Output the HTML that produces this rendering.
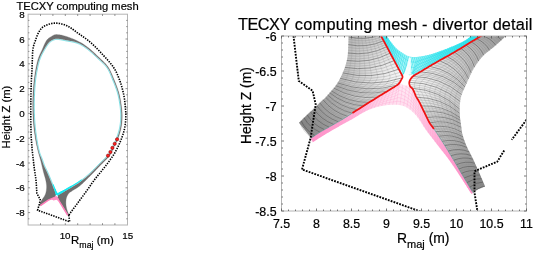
<!DOCTYPE html>
<html><head><meta charset="utf-8"><style>
html,body{margin:0;padding:0;background:#fff;}
svg{display:block;font-family:"Liberation Sans",sans-serif;will-change:transform;}
text{stroke:#000;stroke-width:0.2px;}
</style></head><body>
<svg width="533" height="254" viewBox="0 0 533 254">
<rect width="533" height="254" fill="#fff"/>
<clipPath id="lc"><rect x="28.1" y="14.2" width="99.4" height="210.8"/></clipPath>
<g clip-path="url(#lc)">
<path d="M39.50,204.70 L39.65,204.37 L39.79,204.06 L39.93,203.75 L40.06,203.45 L40.19,203.14 L40.33,202.84 L40.47,202.52 L40.62,202.20 L40.78,201.85 L40.97,201.49 L41.17,201.11 L41.40,200.70 L41.66,200.26 L41.96,199.80 L42.30,199.32 L42.65,198.83 L43.01,198.31 L43.39,197.79 L43.76,197.25 L44.12,196.71 L44.46,196.16 L44.78,195.61 L45.06,195.05 L45.30,194.50 L45.51,193.94 L45.69,193.38 L45.86,192.81 L46.00,192.23 L46.13,191.64 L46.24,191.05 L46.34,190.46 L46.42,189.86 L46.48,189.27 L46.53,188.68 L46.57,188.09 L46.60,187.50 L46.61,186.92 L46.60,186.34 L46.58,185.77 L46.54,185.20 L46.49,184.63 L46.42,184.06 L46.34,183.49 L46.25,182.91 L46.15,182.32 L46.04,181.72 L45.92,181.12 L45.80,180.50 L45.67,179.88 L45.52,179.27 L45.36,178.65 L45.19,178.04 L45.01,177.41 L44.82,176.78 L44.63,176.13 L44.43,175.46 L44.22,174.77 L44.02,174.05 L43.81,173.29 L43.60,172.50 L43.39,171.66 L43.17,170.78 L42.95,169.86 L42.72,168.91 L42.49,167.93 L42.25,166.94 L42.01,165.93 L41.77,164.93 L41.53,163.92 L41.29,162.93 L41.04,161.95 L40.80,161.00 L40.56,160.07 L40.31,159.15 L40.05,158.24 L39.80,157.33 L39.54,156.43 L39.28,155.53 L39.02,154.63 L38.77,153.72 L38.52,152.81 L38.27,151.89 L38.03,150.95 L37.80,150.00 L37.57,149.05 L37.35,148.10 L37.13,147.16 L36.91,146.22 L36.70,145.27 L36.49,144.31 L36.28,143.33 L36.08,142.33 L35.88,141.30 L35.68,140.24 L35.49,139.14 L35.30,138.00 L35.11,136.81 L34.92,135.58 L34.73,134.30 L34.54,133.00 L34.36,131.67 L34.18,130.31 L34.01,128.94 L33.84,127.56 L33.69,126.16 L33.55,124.77 L33.42,123.38 L33.30,122.00 L33.20,120.61 L33.11,119.20 L33.03,117.77 L32.96,116.33 L32.90,114.89 L32.84,113.44 L32.80,111.99 L32.77,110.56 L32.74,109.13 L32.72,107.73 L32.71,106.35 L32.70,105.00 L32.70,103.67 L32.71,102.35 L32.73,101.04 L32.76,99.74 L32.79,98.46 L32.84,97.19 L32.89,95.94 L32.94,94.70 L33.00,93.49 L33.06,92.30 L33.13,91.14 L33.20,90.00 L33.27,88.89 L33.35,87.81 L33.44,86.77 L33.53,85.74 L33.62,84.74 L33.72,83.75 L33.82,82.78 L33.93,81.81 L34.04,80.86 L34.16,79.91 L34.28,78.96 L34.40,78.00 L34.53,77.04 L34.66,76.09 L34.80,75.13 L34.94,74.19 L35.08,73.24 L35.23,72.31 L35.38,71.39 L35.54,70.48 L35.70,69.59 L35.86,68.71 L36.03,67.84 L36.20,67.00 L36.37,66.18 L36.54,65.37 L36.72,64.57 L36.89,63.80 L37.07,63.03 L37.26,62.28 L37.45,61.54 L37.64,60.81 L37.84,60.10 L38.05,59.39 L38.27,58.69 L38.50,58.00 L38.74,57.33 L38.98,56.69 L39.22,56.08 L39.47,55.48 L39.73,54.89 L40.00,54.31 L40.28,53.72 L40.56,53.12 L40.85,52.51 L41.16,51.87 L41.47,51.20 L41.80,50.50 L42.14,49.74 L42.50,48.92 L42.87,48.06 L43.25,47.17 L43.64,46.26 L44.04,45.34 L44.45,44.44 L44.86,43.57 L45.27,42.73 L45.68,41.95 L46.09,41.23 L46.50,40.60 L46.91,40.04 L47.32,39.54 L47.73,39.09 L48.14,38.69 L48.56,38.32 L48.98,37.99 L49.40,37.69 L49.82,37.41 L50.24,37.15 L50.66,36.90 L51.08,36.65 L51.50,36.40 L51.90,36.16 L52.29,35.92 L52.66,35.70 L53.02,35.50 L53.39,35.31 L53.76,35.14 L54.14,34.99 L54.54,34.86 L54.98,34.75 L55.44,34.68 L55.95,34.62 L56.50,34.60 L57.09,34.60 L57.71,34.63 L58.36,34.68 L59.04,34.76 L59.74,34.85 L60.48,34.98 L61.23,35.12 L62.01,35.29 L62.82,35.48 L63.66,35.70 L64.52,35.94 L65.40,36.20 L66.33,36.49 L67.32,36.82 L68.35,37.18 L69.42,37.57 L70.52,37.98 L71.63,38.41 L72.75,38.85 L73.86,39.31 L74.95,39.78 L76.01,40.25 L77.03,40.73 L78.00,41.20 L78.92,41.67 L79.82,42.14 L80.68,42.62 L81.53,43.10 L82.35,43.60 L83.16,44.10 L83.96,44.62 L84.76,45.15 L85.56,45.70 L86.36,46.28 L87.17,46.88 L88.00,47.50 L88.83,48.15 L89.67,48.83 L90.50,49.53 L91.34,50.26 L92.18,51.00 L93.01,51.76 L93.85,52.54 L94.68,53.32 L95.51,54.11 L96.34,54.91 L97.17,55.70 L98.00,56.50 L98.84,57.30 L99.69,58.09 L100.55,58.89 L101.42,59.69 L102.28,60.50 L103.14,61.32 L103.99,62.16 L104.81,63.01 L105.61,63.87 L106.38,64.76 L107.11,65.67 L107.80,66.60 L108.44,67.56 L109.04,68.54 L109.61,69.54 L110.14,70.56 L110.65,71.60 L111.14,72.65 L111.62,73.72 L112.08,74.80 L112.53,75.89 L112.98,76.98 L113.44,78.09 L113.90,79.20 L114.37,80.32 L114.84,81.46 L115.30,82.62 L115.77,83.79 L116.22,84.97 L116.67,86.16 L117.10,87.36 L117.52,88.55 L117.92,89.75 L118.31,90.94 L118.67,92.12 L119.00,93.30 L119.31,94.48 L119.60,95.68 L119.87,96.88 L120.13,98.10 L120.36,99.31 L120.58,100.51 L120.79,101.71 L120.97,102.88 L121.15,104.03 L121.31,105.16 L121.46,106.25 L121.60,107.30 L121.73,108.31 L121.84,109.28 L121.93,110.23 L122.01,111.14 L122.08,112.03 L122.13,112.91 L122.17,113.77 L122.20,114.61 L122.22,115.46 L122.22,116.30 L122.22,117.15 L122.20,118.00 L122.17,118.85 L122.14,119.70 L122.09,120.53 L122.03,121.36 L121.95,122.18 L121.87,122.99 L121.77,123.81 L121.66,124.62 L121.54,125.44 L121.41,126.25 L121.26,127.07 L121.10,127.90 L120.93,128.73 L120.74,129.57 L120.53,130.42 L120.31,131.27 L120.09,132.12 L119.84,132.96 L119.59,133.81 L119.33,134.64 L119.06,135.47 L118.78,136.30 L118.49,137.10 L118.20,137.90 L117.90,138.68 L117.58,139.45 L117.25,140.20 L116.90,140.95 L116.55,141.69 L116.19,142.43 L115.83,143.15 L115.46,143.88 L115.09,144.61 L114.73,145.34 L114.36,146.07 L114.00,146.80 L113.66,147.53 L113.34,148.26 L113.04,148.97 L112.74,149.69 L112.45,150.40 L112.14,151.12 L111.82,151.84 L111.47,152.57 L111.08,153.30 L110.64,154.05 L110.15,154.82 L109.60,155.60 L108.98,156.40 L108.30,157.21 L107.56,158.04 L106.78,158.88 L105.96,159.73 L105.11,160.59 L104.25,161.45 L103.37,162.32 L102.48,163.19 L101.61,164.06 L100.74,164.93 L99.90,165.80 L99.07,166.67 L98.23,167.56 L97.38,168.45 L96.53,169.34 L95.68,170.24 L94.82,171.14 L93.96,172.04 L93.10,172.93 L92.25,173.82 L91.39,174.69 L90.54,175.55 L89.70,176.40 L88.85,177.25 L87.99,178.10 L87.12,178.96 L86.25,179.83 L85.38,180.68 L84.51,181.52 L83.66,182.34 L82.82,183.13 L82.00,183.89 L81.20,184.61 L80.43,185.28 L79.70,185.90 L78.99,186.47 L78.30,186.98 L77.63,187.45 L76.97,187.89 L76.33,188.28 L75.72,188.66 L75.12,189.01 L74.55,189.34 L74.00,189.66 L73.48,189.97 L72.98,190.28 L72.50,190.60 L72.05,190.91 L71.64,191.18 L71.25,191.44 L70.89,191.67 L70.55,191.90 L70.24,192.12 L69.94,192.34 L69.65,192.56 L69.38,192.79 L69.11,193.04 L68.85,193.31 L68.60,193.60 L68.35,193.92 L68.12,194.25 L67.89,194.59 L67.68,194.94 L67.48,195.30 L67.29,195.67 L67.11,196.05 L66.94,196.44 L66.79,196.82 L66.65,197.22 L66.52,197.61 L66.40,198.00 L66.29,198.39 L66.20,198.79 L66.13,199.20 L66.06,199.60 L66.01,200.02 L65.97,200.43 L65.94,200.85 L65.91,201.27 L65.90,201.70 L65.89,202.13 L65.89,202.56 L65.90,203.00 L65.91,203.44 L65.93,203.88 L65.96,204.33 L66.00,204.78 L66.04,205.23 L66.09,205.69 L66.16,206.15 L66.23,206.61 L66.31,207.08 L66.39,207.55 L66.49,208.02 L66.60,208.50 L66.72,208.98 L66.86,209.47 L67.01,209.96 L67.17,210.46 L67.34,210.96 L67.52,211.47 L67.70,211.97 L67.89,212.48 L68.07,212.99 L68.25,213.49 L68.43,214.00 L68.60,214.50 L68.30,215.00 L61.50,204.50 L56.50,196.60 L56.50,196.00 L56.91,195.77 L57.30,195.56 L57.67,195.35 L58.04,195.14 L58.42,194.93 L58.79,194.72 L59.18,194.51 L59.59,194.28 L60.02,194.04 L60.48,193.78 L60.97,193.50 L61.50,193.20 L62.07,192.87 L62.67,192.53 L63.31,192.17 L63.96,191.80 L64.64,191.41 L65.34,191.01 L66.06,190.59 L66.79,190.17 L67.54,189.74 L68.29,189.30 L69.04,188.85 L69.80,188.40 L70.57,187.94 L71.36,187.48 L72.16,187.01 L72.99,186.53 L73.82,186.04 L74.66,185.54 L75.50,185.04 L76.35,184.51 L77.19,183.98 L78.04,183.44 L78.87,182.88 L79.70,182.30 L80.52,181.71 L81.34,181.11 L82.15,180.50 L82.97,179.87 L83.79,179.23 L84.60,178.58 L85.41,177.92 L86.23,177.24 L87.05,176.55 L87.86,175.85 L88.68,175.13 L89.50,174.40 L90.32,173.65 L91.15,172.88 L91.98,172.08 L92.80,171.27 L93.63,170.45 L94.46,169.62 L95.29,168.78 L96.12,167.94 L96.94,167.09 L97.77,166.26 L98.59,165.42 L99.40,164.60 L100.23,163.78 L101.08,162.95 L101.94,162.11 L102.81,161.28 L103.68,160.44 L104.54,159.61 L105.38,158.78 L106.19,157.96 L106.97,157.14 L107.70,156.35 L108.38,155.56 L109.00,154.80 L109.56,154.06 L110.05,153.34 L110.50,152.63 L110.90,151.94 L111.27,151.26 L111.61,150.59 L111.93,149.92 L112.23,149.25 L112.54,148.57 L112.84,147.89 L113.16,147.20 L113.50,146.50 L113.85,145.79 L114.20,145.07 L114.54,144.36 L114.88,143.64 L115.22,142.92 L115.55,142.20 L115.88,141.47 L116.20,140.73 L116.51,139.99 L116.81,139.24 L117.11,138.47 L117.40,137.70 L117.68,136.91 L117.96,136.11 L118.24,135.30 L118.51,134.48 L118.77,133.65 L119.02,132.81 L119.27,131.97 L119.50,131.13 L119.72,130.29 L119.93,129.46 L120.12,128.62 L120.30,127.80 L120.46,126.98 L120.61,126.17 L120.74,125.36 L120.86,124.56 L120.97,123.75 L121.06,122.94 L121.15,122.13 L121.22,121.32 L121.28,120.50 L121.33,119.68 L121.37,118.84 L121.40,118.00 L121.42,117.15 L121.43,116.32 L121.43,115.48 L121.43,114.64 L121.41,113.80 L121.38,112.95 L121.33,112.08 L121.27,111.20 L121.20,110.29 L121.12,109.36 L121.02,108.40 L120.90,107.40 L120.77,106.36 L120.63,105.29 L120.47,104.17 L120.31,103.04 L120.13,101.88 L119.93,100.70 L119.72,99.51 L119.49,98.32 L119.25,97.12 L118.98,95.94 L118.70,94.76 L118.40,93.60 L118.07,92.45 L117.72,91.28 L117.35,90.12 L116.95,88.95 L116.54,87.78 L116.11,86.61 L115.67,85.45 L115.23,84.30 L114.77,83.15 L114.31,82.02 L113.86,80.90 L113.40,79.80 L112.95,78.71 L112.51,77.62 L112.08,76.54 L111.64,75.47 L111.20,74.41 L110.75,73.36 L110.28,72.32 L109.79,71.30 L109.27,70.29 L108.72,69.31 L108.13,68.34 L107.50,67.40 L106.82,66.48 L106.09,65.59 L105.33,64.72 L104.53,63.87 L103.70,63.04 L102.85,62.23 L101.99,61.42 L101.12,60.63 L100.25,59.84 L99.38,59.06 L98.53,58.28 L97.70,57.50 L96.88,56.72 L96.05,55.94 L95.23,55.15 L94.40,54.38 L93.58,53.61 L92.75,52.85 L91.92,52.11 L91.10,51.38 L90.27,50.67 L89.45,49.99 L88.62,49.33 L87.80,48.70 L86.99,48.10 L86.19,47.51 L85.41,46.95 L84.63,46.40 L83.85,45.88 L83.07,45.37 L82.28,44.89 L81.47,44.43 L80.64,43.99 L79.79,43.57 L78.91,43.17 L78.00,42.80 L77.03,42.45 L76.01,42.14 L74.94,41.85 L73.83,41.58 L72.71,41.34 L71.58,41.11 L70.46,40.90 L69.36,40.71 L68.29,40.52 L67.26,40.34 L66.29,40.17 L65.40,40.00 L64.57,39.83 L63.77,39.67 L63.01,39.52 L62.29,39.37 L61.60,39.24 L60.94,39.12 L60.31,39.01 L59.71,38.91 L59.13,38.84 L58.57,38.77 L58.02,38.73 L57.50,38.70 L57.01,38.69 L56.55,38.70 L56.13,38.72 L55.74,38.76 L55.37,38.81 L55.03,38.88 L54.69,38.96 L54.36,39.06 L54.03,39.18 L53.70,39.30 L53.36,39.44 L53.00,39.60 L52.64,39.76 L52.28,39.93 L51.93,40.10 L51.58,40.28 L51.23,40.48 L50.88,40.69 L50.53,40.93 L50.18,41.20 L49.82,41.49 L49.45,41.82 L49.08,42.19 L48.70,42.60 L48.31,43.06 L47.90,43.57 L47.48,44.11 L47.06,44.70 L46.63,45.32 L46.19,45.96 L45.76,46.62 L45.33,47.29 L44.91,47.97 L44.50,48.65 L44.09,49.33 L43.70,50.00 L43.32,50.67 L42.94,51.34 L42.56,52.02 L42.18,52.71 L41.81,53.41 L41.45,54.12 L41.10,54.83 L40.75,55.55 L40.42,56.28 L40.10,57.01 L39.79,57.75 L39.50,58.50 L39.23,59.25 L38.97,60.00 L38.72,60.75 L38.49,61.50 L38.27,62.26 L38.06,63.03 L37.86,63.81 L37.66,64.61 L37.47,65.43 L37.28,66.26 L37.09,67.12 L36.90,68.00 L36.71,68.90 L36.52,69.82 L36.34,70.75 L36.16,71.70 L35.98,72.67 L35.81,73.66 L35.64,74.66 L35.48,75.69 L35.32,76.73 L35.17,77.80 L35.03,78.89 L34.90,80.00 L34.77,81.14 L34.65,82.33 L34.54,83.54 L34.43,84.78 L34.33,86.04 L34.24,87.31 L34.15,88.60 L34.07,89.89 L33.99,91.18 L33.92,92.47 L33.86,93.74 L33.80,95.00 L33.75,96.25 L33.70,97.50 L33.66,98.75 L33.63,100.00 L33.60,101.25 L33.58,102.50 L33.57,103.75 L33.56,105.00 L33.56,106.25 L33.57,107.50 L33.58,108.75 L33.60,110.00 L33.63,111.25 L33.66,112.50 L33.70,113.75 L33.75,115.00 L33.81,116.25 L33.87,117.50 L33.94,118.75 L34.01,120.00 L34.10,121.25 L34.19,122.50 L34.29,123.75 L34.40,125.00 L34.52,126.26 L34.65,127.53 L34.78,128.82 L34.93,130.11 L35.08,131.40 L35.24,132.69 L35.41,133.96 L35.58,135.22 L35.76,136.46 L35.94,137.67 L36.12,138.86 L36.30,140.00 L36.49,141.12 L36.68,142.23 L36.88,143.33 L37.08,144.41 L37.29,145.47 L37.50,146.50 L37.71,147.51 L37.93,148.48 L38.15,149.42 L38.36,150.32 L38.58,151.18 L38.80,152.00 L39.02,152.76 L39.24,153.46 L39.47,154.10 L39.69,154.70 L39.92,155.27 L40.15,155.81 L40.38,156.34 L40.61,156.85 L40.83,157.37 L41.06,157.89 L41.28,158.43 L41.50,159.00 L41.71,159.58 L41.91,160.16 L42.11,160.73 L42.30,161.30 L42.50,161.88 L42.69,162.45 L42.88,163.03 L43.09,163.61 L43.30,164.19 L43.52,164.79 L43.75,165.39 L44.00,166.00 L44.26,166.61 L44.53,167.21 L44.81,167.80 L45.10,168.39 L45.40,168.98 L45.70,169.59 L46.01,170.21 L46.33,170.86 L46.66,171.54 L47.00,172.25 L47.35,173.00 L47.70,173.80 L48.07,174.66 L48.46,175.58 L48.86,176.55 L49.28,177.56 L49.71,178.59 L50.14,179.65 L50.57,180.71 L51.00,181.78 L51.42,182.83 L51.83,183.86 L52.22,184.85 L52.60,185.80 L52.96,186.71 L53.31,187.60 L53.65,188.48 L53.97,189.33 L54.30,190.18 L54.61,191.01 L54.93,191.84 L55.24,192.67 L55.55,193.49 L55.86,194.32 L56.18,195.16 L56.50,196.00 L56.50,196.60 L48.30,200.00 L40.60,205.60 L39.50,204.90 Z" fill="#6e6e6e" stroke="#6e6e6e" stroke-width="0.3"/>
<path d="M57.15,195.75 L56.83,194.91 L56.52,194.07 L56.20,193.24 L55.89,192.42 L55.58,191.59 L55.27,190.76 L54.95,189.93 L54.63,189.08 L54.30,188.22 L53.96,187.35 L53.61,186.46 L53.25,185.54 L52.87,184.59 L52.48,183.60 L52.07,182.57 L51.65,181.52 L51.22,180.45 L50.79,179.39 L50.36,178.33 L49.93,177.29 L49.51,176.28 L49.10,175.31 L48.71,174.38 L48.34,173.52 L47.98,172.71 L47.63,171.95 L47.29,171.23 L46.96,170.55 L46.64,169.90 L46.33,169.27 L46.02,168.67 L45.73,168.08 L45.44,167.49 L45.17,166.91 L44.90,166.33 L44.65,165.73 L44.40,165.13 L44.17,164.54 L43.95,163.95 L43.75,163.37 L43.55,162.80 L43.35,162.23 L43.16,161.65 L42.97,161.08 L42.77,160.51 L42.58,159.93 L42.37,159.34 L42.16,158.75 L41.93,158.17 L41.70,157.62 L41.48,157.09 L41.25,156.57 L41.02,156.05 L40.79,155.54 L40.57,155.00 L40.34,154.45 L40.12,153.86 L39.90,153.23 L39.69,152.56 L39.47,151.81 L39.26,151.01 L39.04,150.16 L38.83,149.26 L38.61,148.33 L38.40,147.36 L38.19,146.36 L37.98,145.33 L37.77,144.28 L37.57,143.20 L37.37,142.11 L37.18,141.00 L36.99,139.89 L36.81,138.75 L36.63,137.57 L36.45,136.36 L36.27,135.13 L36.10,133.87 L35.94,132.60 L35.78,131.32 L35.62,130.03 L35.48,128.74 L35.34,127.46 L35.21,126.19 L35.10,124.94 L34.99,123.69 L34.89,122.45 L34.80,121.20 L34.71,119.95 L34.64,118.71 L34.57,117.46 L34.51,116.22 L34.45,114.97 L34.40,113.73 L34.36,112.48 L34.33,111.23 L34.30,109.99 L34.28,108.74 L34.27,107.49 L34.26,106.25 L34.26,105.00 L34.27,103.76 L34.28,102.51 L34.30,101.26 L34.33,100.02 L34.36,98.77 L34.40,97.52 L34.45,96.28 L34.50,95.03 L34.56,93.77 L34.62,92.50 L34.69,91.22 L34.77,89.93 L34.85,88.64 L34.94,87.36 L35.03,86.09 L35.13,84.84 L35.24,83.60 L35.35,82.39 L35.47,81.22 L35.60,80.08 L35.73,78.97 L35.87,77.89 L36.02,76.83 L36.17,75.79 L36.33,74.77 L36.50,73.77 L36.67,72.79 L36.84,71.83 L37.02,70.89 L37.21,69.96 L37.39,69.05 L37.58,68.15 L37.77,67.27 L37.96,66.41 L38.15,65.58 L38.34,64.78 L38.54,63.99 L38.74,63.21 L38.95,62.45 L39.16,61.70 L39.39,60.96 L39.63,60.22 L39.88,59.48 L40.15,58.75 L40.44,58.01 L40.74,57.29 L41.06,56.56 L41.39,55.85 L41.73,55.14 L42.07,54.43 L42.43,53.74 L42.80,53.05 L43.17,52.36 L43.55,51.68 L43.93,51.01 L44.31,50.35 L44.69,49.69 L45.09,49.01 L45.51,48.34 L45.93,47.66 L46.35,47.00 L46.78,46.34 L47.20,45.71 L47.63,45.11 L48.04,44.53 L48.45,44.00 L48.84,43.51 L49.22,43.07 L49.58,42.68 L49.94,42.33 L50.28,42.02 L50.61,41.75 L50.94,41.50 L51.26,41.28 L51.59,41.08 L51.91,40.90 L52.24,40.72 L52.58,40.56 L52.93,40.40 L53.28,40.24 L53.63,40.09 L53.96,39.95 L54.27,39.83 L54.57,39.73 L54.87,39.64 L55.18,39.56 L55.49,39.50 L55.82,39.45 L56.18,39.42 L56.57,39.40 L57.00,39.39 L57.48,39.40 L57.98,39.42 L58.50,39.47 L59.04,39.53 L59.61,39.61 L60.20,39.70 L60.82,39.81 L61.47,39.93 L62.16,40.06 L62.88,40.20 L63.63,40.36 L64.43,40.52 L65.27,40.69 L66.17,40.86 L67.14,41.03 L68.17,41.21 L69.23,41.40 L70.33,41.59 L71.45,41.80 L72.57,42.02 L73.68,42.26 L74.76,42.53 L75.81,42.81 L76.81,43.12 L77.75,43.45 L78.64,43.82 L79.50,44.20 L80.33,44.61 L81.13,45.04 L81.92,45.49 L82.70,45.97 L83.47,46.46 L84.23,46.98 L85.00,47.52 L85.78,48.08 L86.57,48.66 L87.38,49.26 L88.19,49.88 L89.00,50.53 L89.82,51.21 L90.64,51.91 L91.46,52.63 L92.28,53.37 L93.10,54.12 L93.93,54.89 L94.75,55.66 L95.57,56.44 L96.40,57.23 L97.22,58.01 L98.06,58.79 L98.91,59.58 L99.78,60.36 L100.65,61.14 L101.51,61.93 L102.37,62.73 L103.21,63.54 L104.02,64.36 L104.81,65.20 L105.56,66.05 L106.27,66.91 L106.93,67.80 L107.54,68.72 L108.12,69.66 L108.65,70.62 L109.16,71.61 L109.65,72.61 L110.11,73.64 L110.56,74.68 L111.00,75.74 L111.43,76.81 L111.86,77.88 L112.30,78.97 L112.75,80.07 L113.21,81.17 L113.67,82.28 L114.12,83.41 L114.57,84.55 L115.02,85.70 L115.46,86.86 L115.88,88.02 L116.29,89.18 L116.68,90.34 L117.05,91.49 L117.40,92.64 L117.72,93.78 L118.02,94.93 L118.30,96.09 L118.56,97.27 L118.81,98.45 L119.03,99.64 L119.24,100.82 L119.44,101.99 L119.62,103.14 L119.78,104.27 L119.93,105.38 L120.08,106.45 L120.21,107.48 L120.32,108.48 L120.42,109.43 L120.51,110.35 L120.58,111.25 L120.63,112.12 L120.68,112.98 L120.71,113.82 L120.73,114.66 L120.73,115.48 L120.73,116.31 L120.72,117.14 L120.70,117.98 L120.67,118.82 L120.63,119.64 L120.58,120.46 L120.52,121.27 L120.45,122.07 L120.37,122.87 L120.27,123.66 L120.17,124.46 L120.05,125.25 L119.92,126.05 L119.77,126.85 L119.61,127.66 L119.44,128.47 L119.25,129.29 L119.05,130.12 L118.83,130.95 L118.60,131.78 L118.35,132.61 L118.10,133.44 L117.84,134.26 L117.57,135.08 L117.30,135.88 L117.02,136.68 L116.74,137.46 L116.46,138.22 L116.16,138.98 L115.86,139.72 L115.55,140.46 L115.24,141.19 L114.91,141.91 L114.58,142.63 L114.25,143.35 L113.91,144.06 L113.57,144.77 L113.22,145.48 L112.87,146.19 L112.53,146.91 L112.21,147.60 L111.90,148.29 L111.60,148.96 L111.29,149.62 L110.98,150.28 L110.65,150.94 L110.29,151.60 L109.90,152.27 L109.47,152.95 L108.99,153.65 L108.45,154.37 L107.84,155.11 L107.18,155.88 L106.46,156.67 L105.69,157.47 L104.88,158.28 L104.05,159.11 L103.19,159.94 L102.33,160.77 L101.45,161.61 L100.59,162.45 L99.74,163.28 L98.90,164.11 L98.09,164.93 L97.27,165.76 L96.44,166.60 L95.62,167.45 L94.79,168.29 L93.97,169.13 L93.14,169.96 L92.31,170.78 L91.49,171.58 L90.67,172.37 L89.85,173.14 L89.03,173.88 L88.22,174.61 L87.40,175.32 L86.59,176.02 L85.78,176.70 L84.97,177.38 L84.16,178.04 L83.35,178.68 L82.54,179.32 L81.73,179.94 L80.92,180.55 L80.11,181.14 L79.30,181.73 L78.48,182.30 L77.65,182.85 L76.82,183.39 L75.98,183.92 L75.14,184.44 L74.30,184.94 L73.46,185.44 L72.63,185.93 L71.81,186.40 L71.00,186.88 L70.21,187.34 L69.44,187.80 L68.68,188.25 L67.93,188.70 L67.18,189.13 L66.44,189.56 L65.71,189.99 L65.00,190.40 L64.30,190.80 L63.62,191.19 L62.96,191.56 L62.33,191.92 L61.72,192.27 L61.15,192.59 L60.62,192.89 L60.13,193.17 L59.67,193.43 L59.25,193.67 L58.84,193.90 L58.45,194.11 L58.08,194.32 L57.71,194.53 L57.33,194.73 L56.95,194.94 L56.57,195.16 L56.16,195.39" fill="none" stroke="#38d0d8" stroke-width="0.65"/>
<path d="M57.34,195.68 L57.02,194.84 L56.70,194.00 L56.39,193.17 L56.08,192.35 L55.77,191.52 L55.45,190.69 L55.14,189.86 L54.81,189.01 L54.49,188.15 L54.15,187.28 L53.80,186.38 L53.44,185.47 L53.06,184.52 M81.61,179.78 L80.80,180.39 L79.99,180.98 L79.18,181.57 L78.37,182.13 L77.54,182.68 L76.71,183.22 L75.87,183.75 L75.03,184.27 L74.19,184.77 L73.36,185.27 L72.53,185.75 L71.71,186.23 L70.90,186.70 L70.11,187.17 L69.34,187.63 L68.58,188.08 L67.83,188.52 L67.08,188.96 L66.34,189.39 L65.61,189.81 L64.90,190.23 L64.20,190.63 L63.52,191.01 L62.86,191.39 L62.23,191.75 L61.63,192.09 L61.05,192.42 L60.52,192.72 L60.03,193.00 L59.58,193.26 L59.15,193.50 L58.74,193.72 L58.36,193.94 L57.98,194.15 L57.61,194.35 L57.24,194.56 L56.86,194.77 L56.47,194.99 L56.06,195.21" fill="none" stroke="#14eaf2" stroke-width="1.1"/>
<path d="M57.34,195.68 L57.02,194.84 L56.70,194.00 L56.39,193.17 L56.08,192.35 L55.77,191.52 L55.45,190.69 L55.14,189.86 L54.81,189.01 M71.71,186.23 L70.90,186.70 L70.11,187.17 L69.34,187.63 L68.58,188.08 L67.83,188.52 L67.08,188.96 L66.34,189.39 L65.61,189.81 L64.90,190.23 L64.20,190.63 L63.52,191.01 L62.86,191.39 L62.23,191.75 L61.63,192.09 L61.05,192.42 L60.52,192.72 L60.03,193.00 L59.58,193.26 L59.15,193.50 L58.74,193.72 L58.36,193.94 L57.98,194.15 L57.61,194.35 L57.24,194.56 L56.86,194.77 L56.47,194.99 L56.06,195.21" fill="none" stroke="#14eaf2" stroke-width="1.5"/>
<path d="M57.34,195.68 L57.02,194.84 L56.70,194.00 L56.39,193.17 L56.08,192.35 M62.86,191.39 L62.23,191.75 L61.63,192.09 L61.05,192.42 L60.52,192.72 L60.03,193.00 L59.58,193.26 L59.15,193.50 L58.74,193.72 L58.36,193.94 L57.98,194.15 L57.61,194.35 L57.24,194.56 L56.86,194.77 L56.47,194.99 L56.06,195.21" fill="none" stroke="#14eaf2" stroke-width="2.0"/>
<circle cx="56.6" cy="196.2" r="1.2" fill="#e8ffff"/>
<path d="M56.5,196.8 L48.3,200.1 L40.4,205.6 M56.5,196.8 L61.3,204.6 L67.8,215.3" fill="none" stroke="#ff7eb9" stroke-width="1.6"/>
<polygon points="56.5,196.6 51,199 53.5,200.5 56.5,199.8 59,201.5 58.8,199" fill="#ff8ec4"/>
<path d="M68.80,215.00 L69.57,213.97 L70.34,212.93 L71.10,211.90 L71.87,210.86 L72.64,209.82 L73.41,208.79 L74.18,207.75 L74.95,206.72 L75.71,205.69 L76.48,204.66 L77.24,203.63 L78.00,202.60 L78.76,201.57 L79.53,200.53 L80.30,199.49 L81.08,198.45 L81.85,197.41 L82.62,196.37 L83.38,195.35 L84.13,194.33 L84.87,193.32 L85.60,192.33 L86.31,191.35 L87.00,190.40 L87.66,189.48 L88.28,188.59 L88.87,187.73 L89.45,186.89 L90.01,186.06 L90.57,185.24 L91.13,184.41 L91.71,183.58 L92.30,182.73 L92.93,181.85 L93.59,180.94 L94.30,180.00 L95.07,179.00 L95.90,177.94 L96.78,176.84 L97.69,175.70 L98.63,174.55 L99.57,173.40 L100.50,172.26 L101.42,171.14 L102.30,170.06 L103.13,169.04 L103.90,168.08 L104.60,167.20 L105.22,166.40 L105.79,165.68 L106.30,165.01 L106.78,164.40 L107.22,163.82 L107.63,163.27 L108.03,162.74 L108.41,162.21 L108.79,161.69 L109.18,161.15 L109.58,160.59 L110.00,160.00 L110.43,159.40 L110.85,158.81 L111.27,158.23 L111.69,157.65 L112.10,157.07 L112.51,156.48 L112.92,155.88 L113.33,155.26 L113.74,154.62 L114.15,153.95 L114.57,153.24 L115.00,152.50 L115.44,151.71 L115.88,150.89 L116.33,150.04 L116.79,149.15 L117.25,148.24 L117.71,147.32 L118.17,146.38 L118.62,145.43 L119.06,144.47 L119.49,143.51 L119.90,142.55 L120.30,141.60 L120.69,140.65 L121.07,139.69 L121.45,138.71 L121.82,137.73 L122.19,136.75 L122.54,135.76 L122.88,134.76 L123.20,133.77 L123.51,132.77 L123.79,131.78 L124.06,130.79 L124.30,129.80 L124.52,128.81 L124.72,127.82 L124.90,126.82 L125.06,125.82 L125.20,124.82 L125.32,123.83 L125.44,122.83 L125.53,121.84 L125.62,120.87 L125.69,119.90 L125.75,118.94 L125.80,118.00 L125.84,117.08 L125.86,116.20 L125.87,115.34 L125.86,114.50 L125.84,113.66 L125.81,112.83 L125.77,111.98 L125.71,111.13 L125.65,110.25 L125.58,109.34 L125.49,108.39 L125.40,107.40 L125.30,106.36 L125.19,105.29 L125.08,104.18 L124.96,103.04 L124.82,101.88 L124.68,100.70 L124.52,99.51 L124.34,98.32 L124.16,97.13 L123.96,95.94 L123.74,94.76 L123.50,93.60 L123.25,92.45 L122.98,91.29 L122.70,90.12 L122.40,88.96 L122.09,87.79 L121.76,86.62 L121.42,85.46 L121.07,84.31 L120.70,83.17 L120.31,82.03 L119.91,80.91 L119.50,79.80 L119.08,78.71 L118.67,77.64 L118.26,76.59 L117.83,75.56 L117.40,74.53 L116.94,73.50 L116.45,72.47 L115.93,71.44 L115.38,70.41 L114.77,69.36 L114.11,68.29 L113.40,67.20 L112.62,66.09 L111.76,64.94 L110.85,63.78 L109.89,62.61 L108.89,61.42 L107.86,60.24 L106.81,59.05 L105.74,57.88 L104.68,56.72 L103.63,55.59 L102.60,54.48 L101.60,53.40 L100.62,52.35 L99.63,51.30 L98.65,50.27 L97.67,49.26 L96.68,48.26 L95.70,47.27 L94.72,46.31 L93.73,45.36 L92.75,44.44 L91.77,43.53 L90.78,42.65 L89.80,41.80 L88.81,40.97 L87.82,40.18 L86.82,39.41 L85.82,38.66 L84.82,37.93 L83.83,37.23 L82.83,36.53 L81.84,35.85 L80.87,35.18 L79.90,34.52 L78.94,33.86 L78.00,33.20 L77.08,32.54 L76.18,31.87 L75.29,31.20 L74.42,30.54 L73.56,29.88 L72.70,29.24 L71.84,28.62 L70.98,28.03 L70.11,27.46 L69.22,26.93 L68.32,26.44 L67.40,26.00 L66.46,25.59 L65.49,25.20 L64.52,24.84 L63.53,24.50 L62.53,24.19 L61.53,23.92 L60.53,23.68 L59.53,23.48 L58.53,23.32 L57.54,23.20 L56.56,23.12 L55.60,23.10 L54.63,23.13 L53.64,23.21 L52.64,23.35 L51.64,23.53 L50.64,23.75 L49.66,24.01 L48.69,24.29 L47.76,24.60 L46.86,24.94 L46.02,25.28 L45.23,25.64 L44.50,26.00 L43.84,26.37 L43.23,26.77 L42.68,27.19 L42.17,27.63 L41.71,28.09 L41.27,28.57 L40.86,29.07 L40.47,29.58 L40.10,30.11 L39.73,30.66 L39.37,31.22 L39.00,31.80 L38.64,32.40 L38.30,33.01 L37.99,33.65 L37.69,34.31 L37.40,34.98 L37.12,35.67 L36.86,36.37 L36.60,37.08 L36.35,37.80 L36.10,38.53 L35.85,39.26 L35.60,40.00 L35.34,40.72 L35.09,41.41 L34.83,42.09 L34.58,42.77 L34.33,43.45 L34.09,44.16 L33.85,44.89 L33.63,45.68 L33.43,46.52 L33.23,47.43 L33.06,48.42 L32.90,49.50 L32.77,50.68 L32.66,51.94 L32.57,53.28 L32.50,54.69 L32.44,56.15 L32.39,57.66 L32.35,59.21 L32.31,60.79 L32.27,62.39 L32.22,63.99 L32.17,65.60 L32.10,67.20 L32.02,68.78 L31.94,70.34 L31.85,71.90 L31.76,73.46 L31.66,75.05 L31.57,76.66 L31.48,78.32 L31.39,80.04 L31.31,81.82 L31.23,83.68 L31.16,85.64 L31.10,87.70 L31.05,89.90 L31.00,92.26 L30.95,94.74 L30.91,97.32 L30.87,99.97 L30.84,102.66 L30.82,105.35 L30.80,108.03 L30.79,110.67 L30.78,113.22 L30.79,115.68 L30.80,118.00 L30.82,120.20 L30.84,122.32 L30.86,124.37 L30.90,126.36 L30.93,128.31 L30.98,130.22 L31.04,132.11 L31.10,133.98 L31.18,135.86 L31.27,137.74 L31.38,139.65 L31.50,141.60 L31.64,143.60 L31.81,145.64 L31.99,147.71 L32.19,149.80 L32.40,151.89 L32.62,153.97 L32.84,156.01 L33.07,158.01 L33.29,159.94 L33.50,161.79 L33.71,163.55 L33.90,165.20 L34.08,166.73 L34.27,168.15 L34.45,169.48 L34.63,170.73 L34.81,171.92 L34.99,173.06 L35.16,174.17 L35.32,175.26 L35.48,176.34 L35.63,177.43 L35.77,178.55 L35.90,179.70 L36.02,180.87 L36.12,182.04 L36.22,183.20 L36.31,184.35 L36.39,185.50 L36.46,186.64 L36.53,187.79 L36.60,188.93 L36.67,190.07 L36.74,191.21 L36.82,192.35 L36.90,193.50 L40.20,199.50 L39.50,203.60 L37.60,210.20 L69.70,221.80 L68.80,215.00" fill="none" stroke="#000" stroke-width="1.6" stroke-dasharray="1.4 1.15"/>
<circle cx="117.1" cy="139.3" r="1.6" fill="#ff2020" stroke="#900000" stroke-width="0.6"/>
<circle cx="114.7" cy="143.8" r="1.6" fill="#ff2020" stroke="#900000" stroke-width="0.6"/>
<circle cx="112.4" cy="147.9" r="1.6" fill="#ff2020" stroke="#900000" stroke-width="0.6"/>
<circle cx="110.4" cy="152" r="1.6" fill="#ff2020" stroke="#900000" stroke-width="0.6"/>
<circle cx="108" cy="155.6" r="1.6" fill="#ff2020" stroke="#900000" stroke-width="0.6"/>
</g>
<rect x="28.1" y="14.2" width="99.4" height="210.8" fill="none" stroke="#b4b4b4" stroke-width="1"/>
<path d="M40.50,225.0 v-1.8 M40.50,14.2 v1.8 M52.90,225.0 v-1.8 M52.90,14.2 v1.8 M65.30,225.0 v-1.8 M65.30,14.2 v1.8 M77.70,225.0 v-1.8 M77.70,14.2 v1.8 M90.10,225.0 v-1.8 M90.10,14.2 v1.8 M102.50,225.0 v-1.8 M102.50,14.2 v1.8 M114.90,225.0 v-1.8 M114.90,14.2 v1.8 M28.1,20.40 h1.3 M127.5,20.40 h-1.3 M28.1,26.60 h1.3 M127.5,26.60 h-1.3 M28.1,32.80 h1.3 M127.5,32.80 h-1.3 M28.1,39.00 h2 M127.5,39.00 h-2 M28.1,45.20 h1.3 M127.5,45.20 h-1.3 M28.1,51.40 h1.3 M127.5,51.40 h-1.3 M28.1,57.60 h1.3 M127.5,57.60 h-1.3 M28.1,63.80 h2 M127.5,63.80 h-2 M28.1,70.00 h1.3 M127.5,70.00 h-1.3 M28.1,76.20 h1.3 M127.5,76.20 h-1.3 M28.1,82.40 h1.3 M127.5,82.40 h-1.3 M28.1,88.60 h2 M127.5,88.60 h-2 M28.1,94.80 h1.3 M127.5,94.80 h-1.3 M28.1,101.00 h1.3 M127.5,101.00 h-1.3 M28.1,107.20 h1.3 M127.5,107.20 h-1.3 M28.1,113.40 h2 M127.5,113.40 h-2 M28.1,119.60 h1.3 M127.5,119.60 h-1.3 M28.1,125.80 h1.3 M127.5,125.80 h-1.3 M28.1,132.00 h1.3 M127.5,132.00 h-1.3 M28.1,138.20 h2 M127.5,138.20 h-2 M28.1,144.40 h1.3 M127.5,144.40 h-1.3 M28.1,150.60 h1.3 M127.5,150.60 h-1.3 M28.1,156.80 h1.3 M127.5,156.80 h-1.3 M28.1,163.00 h2 M127.5,163.00 h-2 M28.1,169.20 h1.3 M127.5,169.20 h-1.3 M28.1,175.40 h1.3 M127.5,175.40 h-1.3 M28.1,181.60 h1.3 M127.5,181.60 h-1.3 M28.1,187.80 h2 M127.5,187.80 h-2 M28.1,194.00 h1.3 M127.5,194.00 h-1.3 M28.1,200.20 h1.3 M127.5,200.20 h-1.3 M28.1,206.40 h1.3 M127.5,206.40 h-1.3 M28.1,212.60 h2 M127.5,212.60 h-2 M28.1,218.80 h1.3 M127.5,218.80 h-1.3" stroke="#666" stroke-width="0.7" fill="none"/>
<text x="24.8" y="17.7" font-size="9.8" text-anchor="end">8</text>
<text x="24.8" y="42.5" font-size="9.8" text-anchor="end">6</text>
<text x="24.8" y="67.3" font-size="9.8" text-anchor="end">4</text>
<text x="24.8" y="92.1" font-size="9.8" text-anchor="end">2</text>
<text x="24.8" y="116.9" font-size="9.8" text-anchor="end">0</text>
<text x="24.8" y="141.7" font-size="9.8" text-anchor="end">-2</text>
<text x="24.8" y="166.5" font-size="9.8" text-anchor="end">-4</text>
<text x="24.8" y="191.3" font-size="9.8" text-anchor="end">-6</text>
<text x="24.8" y="216.1" font-size="9.8" text-anchor="end">-8</text>
<text x="65.1" y="238.6" font-size="9.8" text-anchor="middle">10</text>
<text x="127.7" y="238.6" font-size="9.8" text-anchor="middle">15</text>
<text x="16.4" y="10" font-size="11.2">TECXY computing mesh</text>
<text x="71.1" y="244.2" font-size="11.4">R<tspan font-size="8.8" dy="3.9">maj</tspan><tspan dy="-3.9"> (m)</tspan></text>
<text transform="translate(10.2,117) rotate(-90)" font-size="11.3" text-anchor="middle">Height Z (m)</text>
<clipPath id="rc"><rect x="281.5" y="36.0" width="245.0" height="175.0"/></clipPath>
<radialGradient id="gL" gradientUnits="userSpaceOnUse" cx="402" cy="80" r="110"><stop offset="0" stop-color="#f8f8f8"/><stop offset="0.2" stop-color="#e8e8e8"/><stop offset="0.45" stop-color="#cacaca"/><stop offset="0.75" stop-color="#a2a2a2"/><stop offset="1" stop-color="#808080"/></radialGradient>
<radialGradient id="gR" gradientUnits="userSpaceOnUse" cx="410" cy="82" r="120"><stop offset="0" stop-color="#f8f8f8"/><stop offset="0.2" stop-color="#e6e6e6"/><stop offset="0.45" stop-color="#c8c8c8"/><stop offset="0.75" stop-color="#a6a6a6"/><stop offset="1" stop-color="#848484"/></radialGradient>
<g clip-path="url(#rc)">
<radialGradient id="gP" gradientUnits="userSpaceOnUse" cx="405" cy="84" r="118"><stop offset="0" stop-color="#ffeaf4"/><stop offset="0.3" stop-color="#ffd8eb"/><stop offset="0.5" stop-color="#ffbade"/><stop offset="0.7" stop-color="#ff9ccf"/><stop offset="1" stop-color="#ff88c4"/></radialGradient>
<polygon points="310.80,138.30 311.82,137.62 312.83,136.94 313.85,136.26 314.86,135.57 315.88,134.89 316.90,134.21 317.92,133.54 318.94,132.87 319.98,132.22 321.02,131.58 322.07,130.95 323.13,130.35 324.20,129.75 325.28,129.16 326.35,128.57 327.41,127.97 328.48,127.37 329.55,126.77 330.61,126.17 331.68,125.58 332.75,124.98 333.81,124.38 334.88,123.77 335.94,123.16 337.00,122.55 338.06,121.94 339.11,121.32 340.17,120.70 341.22,120.08 342.27,119.45 343.31,118.81 344.35,118.17 345.39,117.52 346.42,116.86 347.46,116.21 348.49,115.55 349.52,114.89 350.55,114.23 351.58,113.58 352.61,112.92 353.65,112.26 354.68,111.60 355.71,110.94 356.74,110.29 357.77,109.63 358.80,108.97 359.83,108.31 360.87,107.66 361.90,107.00 362.93,106.34 363.96,105.69 365.00,105.03 366.03,104.38 367.07,103.73 368.10,103.07 369.14,102.42 370.17,101.77 371.21,101.12 372.24,100.47 373.28,99.82 374.32,99.17 375.36,98.53 376.40,97.89 377.44,97.24 378.48,96.60 379.53,95.96 380.57,95.33 381.61,94.69 382.66,94.05 383.70,93.41 384.74,92.77 385.79,92.13 386.83,91.49 387.88,90.86 388.92,90.22 389.97,89.59 391.02,88.96 392.06,88.32 393.11,87.69 394.15,87.04 395.18,86.39 396.21,85.73 397.22,85.04 398.19,84.29 398.99,83.37 399.63,82.33 399.87,81.14 400.16,79.96 401.21,79.58 402.30,80.12 403.32,80.79 404.30,81.52 405.27,82.28 406.22,83.04 407.16,83.83 408.09,84.61 409.02,85.41 409.95,86.20 410.89,86.99 411.82,87.79 412.56,88.75 413.17,89.81 413.70,90.92 414.19,92.04 414.65,93.17 415.12,94.30 415.60,95.43 416.12,96.54 416.70,97.61 417.32,98.66 417.97,99.70 418.60,100.75 419.20,101.82 419.76,102.90 420.30,104.00 420.84,105.10 421.36,106.21 421.89,107.31 422.41,108.42 422.94,109.52 423.47,110.62 424.01,111.72 424.54,112.82 425.07,113.92 425.60,115.03 426.13,116.13 426.66,117.23 427.20,118.33 427.75,119.42 428.31,120.51 428.89,121.59 429.49,122.65 430.13,123.70 430.82,124.71 431.56,125.68 432.31,126.65 433.05,127.62 433.76,128.62 434.45,129.63 435.13,130.64 435.81,131.66 436.49,132.68 437.16,133.70 437.84,134.72 438.51,135.75 439.18,136.77 439.84,137.80 440.51,138.82 441.17,139.85 441.83,140.88 442.49,141.91 443.15,142.94 443.80,143.98 444.45,145.02 445.10,146.05 445.74,147.09 446.39,148.13 447.03,149.17 447.67,150.22 448.31,151.26 448.95,152.30 449.58,153.35 450.22,154.39 450.85,155.44 451.49,156.49 452.12,157.54 452.75,158.58 453.38,159.63 454.01,160.68 454.63,161.73 455.26,162.78 455.88,163.84 456.50,164.89 457.12,165.95 457.74,167.00 458.35,168.06 458.97,169.12 459.59,170.17 460.20,171.23 460.82,172.29 461.44,173.34 462.06,174.40 462.68,175.45 463.30,176.51 463.92,177.56 464.55,178.61 465.17,179.66 465.80,180.71 466.42,181.77 467.05,182.82 467.68,183.87 468.30,184.92 468.93,185.97 469.55,187.02 470.18,188.07 470.81,189.12 471.43,190.17 472.06,191.22 472.69,192.27 471.30,193.70 470.73,192.80 470.16,191.91 469.59,191.01 469.02,190.11 468.45,189.21 467.88,188.31 467.31,187.41 466.74,186.52 466.17,185.62 465.60,184.72 465.03,183.82 464.46,182.92 463.89,182.03 463.32,181.13 462.74,180.23 462.17,179.34 461.59,178.45 461.01,177.55 460.43,176.66 459.85,175.77 459.27,174.88 458.69,173.99 458.10,173.10 457.52,172.21 456.94,171.32 456.35,170.44 455.77,169.55 455.18,168.66 454.59,167.78 454.00,166.89 453.40,166.01 452.80,165.13 452.20,164.25 451.60,163.38 450.99,162.51 450.37,161.64 449.76,160.77 449.13,159.91 448.50,159.05 447.87,158.20 447.23,157.35 446.58,156.51 445.93,155.66 445.28,154.83 444.62,153.99 443.96,153.16 443.30,152.32 442.64,151.49 441.97,150.66 441.31,149.83 440.65,149.00 439.99,148.16 439.33,147.33 438.67,146.50 438.01,145.66 437.36,144.82 436.71,143.98 436.06,143.14 435.40,142.30 434.75,141.46 434.10,140.62 433.45,139.78 432.79,138.94 432.14,138.10 431.49,137.25 430.84,136.41 430.19,135.57 429.55,134.73 428.90,133.88 428.26,133.03 427.62,132.18 426.98,131.33 426.35,130.48 425.73,129.61 425.11,128.74 424.52,127.86 423.94,126.97 423.39,126.06 422.85,125.14 422.31,124.23 421.75,123.33 421.16,122.44 420.56,121.56 419.96,120.68 419.37,119.80 418.76,118.93 418.14,118.06 417.51,117.20 416.86,116.37 416.18,115.55 415.47,114.75 414.74,113.98 414.00,113.22 413.23,112.48 412.46,111.75 411.66,111.05 410.85,110.36 410.02,109.70 409.17,109.06 408.29,108.45 407.40,107.88 406.49,107.33 405.55,106.83 404.58,106.38 403.59,105.99 402.58,105.66 401.55,105.39 400.51,105.18 399.46,105.03 398.40,104.92 397.34,104.85 396.28,104.81 395.21,104.80 394.15,104.79 393.09,104.81 392.02,104.83 390.96,104.87 389.90,104.93 388.84,105.01 387.78,105.11 386.72,105.23 385.67,105.37 384.62,105.53 383.57,105.71 382.52,105.90 381.48,106.11 380.44,106.33 379.40,106.57 378.37,106.81 377.33,107.07 376.31,107.34 375.28,107.62 374.26,107.91 373.24,108.23 372.23,108.56 371.23,108.91 370.23,109.28 369.25,109.68 368.27,110.10 367.30,110.54 366.34,111.00 365.38,111.46 364.43,111.94 363.49,112.42 362.54,112.92 361.60,113.41 360.68,113.93 359.77,114.49 358.88,115.08 357.99,115.66 357.10,116.24 356.19,116.80 355.28,117.34 354.36,117.87 353.43,118.39 352.50,118.90 351.57,119.42 350.64,119.93 349.70,120.44 348.77,120.95 347.84,121.47 346.91,121.98 345.97,122.49 345.04,123.00 344.11,123.51 343.18,124.03 342.25,124.54 341.32,125.06 340.39,125.58 339.47,126.10 338.54,126.63 337.61,127.15 336.69,127.68 335.77,128.21 334.84,128.73 333.92,129.26 333.00,129.79 332.08,130.33 331.16,130.86 330.24,131.39 329.32,131.93 328.40,132.47 327.49,133.01 326.57,133.56 325.66,134.10 324.75,134.65 323.84,135.21 322.94,135.76 322.04,136.33 321.13,136.89 320.23,137.46 319.33,138.03 318.44,138.60 317.54,139.17 316.64,139.74 315.75,140.31 314.85,140.88 313.95,141.45 313.05,142.02" fill="url(#gP)"/>
<path d="M311.06,138.87 L312.56,137.88 L314.06,136.88 L315.55,135.87 L317.05,134.88 L318.56,133.89 L320.08,132.92 L321.61,131.99 L323.17,131.08 L324.74,130.20 L326.31,129.32 L327.88,128.43 L329.45,127.55 L331.02,126.66 L332.59,125.78 L334.15,124.89 L335.71,124.00 L337.27,123.10 L338.83,122.19 L340.39,121.28 L341.93,120.36 L343.47,119.43 L345.01,118.48 L346.54,117.53 L348.06,116.58 L349.59,115.62 L351.11,114.67 L352.64,113.71 L354.17,112.76 L355.69,111.80 L357.22,110.84 L358.74,109.88 L360.26,108.92 L361.78,107.96 L363.30,106.99 L364.82,106.03 L366.35,105.08 L367.89,104.13 L369.42,103.19 L370.96,102.25 L372.50,101.32 L374.04,100.40 L375.59,99.49 L377.14,98.59 L378.70,97.69 L380.26,96.81 L381.82,95.93 L383.39,95.05 L384.95,94.18 L386.51,93.31 L388.08,92.45 L389.65,91.60 L391.22,90.75 L392.79,89.90 L394.35,89.05 L395.90,88.17 L397.38,87.22 L398.60,86.00 L399.28,84.52 L400.14,83.17 L401.82,83.67 L403.34,84.59 L404.81,85.60 L406.25,86.66 L407.66,87.76 L409.06,88.88 L410.45,90.02 L411.79,91.22 L412.78,92.70 L413.62,94.27 L414.39,95.88 L415.16,97.49 L415.97,99.08 L416.89,100.63 L417.86,102.14 L418.80,103.68 L419.66,105.26 L420.48,106.85 L421.29,108.46 L422.09,110.07 L422.89,111.69 L423.69,113.30 L424.50,114.91 L425.31,116.51 L426.12,118.12 L426.94,119.72 L427.78,121.31 L428.64,122.89 L429.55,124.44 L430.53,125.95 L431.60,127.40 L432.70,128.82 L433.77,130.27 L434.79,131.75 L435.80,133.24 L436.81,134.73 L437.81,136.23 L438.82,137.72 L439.82,139.22 L440.81,140.72 L441.81,142.22 L442.79,143.72 L443.78,145.23 L444.75,146.74 L445.73,148.26 L446.69,149.77 L447.65,151.30 L448.61,152.82 L449.56,154.35 L450.51,155.88 L451.46,157.41 L452.40,158.94 L453.34,160.48 L454.27,162.02 L455.20,163.56 L456.13,165.11 L457.05,166.65 L457.97,168.20 L458.89,169.75 L459.80,171.30 L460.72,172.85 L461.64,174.40 L462.56,175.94 L463.49,177.49 L464.41,179.03 L465.34,180.58 L466.26,182.12 L467.19,183.67 L468.12,185.21 L469.05,186.75 L469.97,188.30 L470.90,189.84 L471.83,191.38 L472.76,192.93 M311.31,139.44 L312.79,138.47 L314.26,137.50 L315.73,136.52 L317.21,135.55 L318.69,134.58 L320.18,133.63 L321.68,132.71 L323.21,131.81 L324.74,130.94 L326.28,130.07 L327.81,129.19 L329.35,128.32 L330.89,127.45 L332.43,126.58 L333.96,125.71 L335.49,124.83 L337.02,123.95 L338.55,123.06 L340.08,122.17 L341.60,121.27 L343.11,120.37 L344.62,119.45 L346.13,118.53 L347.64,117.60 L349.14,116.68 L350.65,115.76 L352.15,114.83 L353.66,113.91 L355.16,112.98 L356.66,112.06 L358.16,111.13 L359.66,110.19 L361.15,109.24 L362.64,108.29 L364.13,107.34 L365.64,106.42 L367.15,105.51 L368.67,104.61 L370.19,103.71 L371.71,102.82 L373.24,101.95 L374.78,101.09 L376.32,100.25 L377.88,99.42 L379.43,98.61 L380.99,97.81 L382.55,97.01 L384.11,96.22 L385.67,95.44 L387.24,94.67 L388.81,93.92 L390.39,93.17 L391.96,92.44 L393.52,91.70 L395.07,90.95 L396.58,90.15 L397.86,89.14 L398.69,87.90 L399.67,86.78 L401.34,87.22 L402.87,88.02 L404.35,88.92 L405.80,89.88 L407.23,90.90 L408.63,91.96 L410.02,93.04 L411.35,94.19 L412.39,95.59 L413.30,97.07 L414.14,98.58 L414.97,100.11 L415.83,101.63 L416.77,103.11 L417.75,104.58 L418.69,106.08 L419.56,107.61 L420.40,109.16 L421.22,110.72 L422.03,112.28 L422.84,113.85 L423.64,115.43 L424.45,116.99 L425.27,118.55 L426.10,120.11 L426.95,121.65 L427.80,123.19 L428.68,124.72 L429.60,126.22 L430.58,127.69 L431.63,129.11 L432.72,130.50 L433.77,131.93 L434.78,133.37 L435.79,134.82 L436.79,136.27 L437.79,137.73 L438.79,139.18 L439.79,140.64 L440.79,142.10 L441.78,143.56 L442.77,145.02 L443.75,146.48 L444.73,147.95 L445.71,149.42 L446.67,150.90 L447.64,152.38 L448.59,153.86 L449.54,155.35 L450.49,156.84 L451.43,158.33 L452.37,159.83 L453.30,161.33 L454.23,162.83 L455.15,164.34 L456.07,165.85 L456.98,167.36 L457.89,168.87 L458.80,170.38 L459.71,171.90 L460.63,173.41 L461.54,174.92 L462.45,176.44 L463.36,177.95 L464.28,179.46 L465.19,180.97 L466.11,182.48 L467.02,183.99 L467.94,185.50 L468.85,187.01 L469.77,188.53 L470.68,190.04 L471.60,191.55 L472.51,193.06 M311.57,140.01 L313.02,139.07 L314.47,138.12 L315.92,137.16 L317.36,136.21 L318.82,135.27 L320.28,134.34 L321.75,133.43 L323.24,132.55 L324.74,131.68 L326.25,130.82 L327.75,129.96 L329.25,129.10 L330.76,128.24 L332.26,127.38 L333.77,126.53 L335.27,125.66 L336.77,124.80 L338.27,123.93 L339.77,123.06 L341.26,122.19 L342.75,121.30 L344.24,120.42 L345.73,119.52 L347.21,118.63 L348.69,117.74 L350.18,116.85 L351.66,115.96 L353.15,115.06 L354.63,114.17 L356.11,113.27 L357.59,112.37 L359.06,111.45 L360.52,110.53 L361.98,109.59 L363.44,108.66 L364.93,107.77 L366.42,106.90 L367.92,106.03 L369.42,105.17 L370.93,104.32 L372.44,103.49 L373.97,102.69 L375.51,101.91 L377.05,101.15 L378.60,100.41 L380.16,99.68 L381.71,98.97 L383.27,98.27 L384.84,97.58 L386.40,96.90 L387.97,96.24 L389.55,95.60 L391.12,94.97 L392.69,94.35 L394.25,93.74 L395.77,93.09 L397.12,92.27 L398.10,91.28 L399.21,90.40 L400.86,90.77 L402.40,91.45 L403.90,92.24 L405.36,93.10 L406.80,94.04 L408.20,95.03 L409.59,96.07 L410.91,97.17 L412.00,98.48 L412.97,99.86 L413.88,101.29 L414.77,102.73 L415.69,104.18 L416.65,105.60 L417.64,107.02 L418.58,108.47 L419.46,109.96 L420.31,111.46 L421.15,112.97 L421.98,114.49 L422.79,116.02 L423.59,117.55 L424.41,119.08 L425.24,120.59 L426.09,122.09 L426.95,123.59 L427.83,125.07 L428.73,126.55 L429.65,128.01 L430.63,129.44 L431.67,130.82 L432.73,132.19 L433.77,133.58 L434.78,134.99 L435.78,136.40 L436.78,137.81 L437.77,139.23 L438.77,140.65 L439.76,142.06 L440.76,143.48 L441.75,144.89 L442.74,146.31 L443.73,147.73 L444.71,149.16 L445.69,150.59 L446.66,152.02 L447.62,153.46 L448.58,154.90 L449.52,156.35 L450.47,157.80 L451.40,159.25 L452.33,160.71 L453.26,162.18 L454.18,163.64 L455.10,165.11 L456.01,166.59 L456.92,168.06 L457.82,169.54 L458.72,171.02 L459.63,172.49 L460.53,173.97 L461.43,175.45 L462.34,176.93 L463.24,178.40 L464.14,179.88 L465.05,181.36 L465.95,182.84 L466.85,184.32 L467.75,185.80 L468.66,187.27 L469.56,188.75 L470.46,190.23 L471.37,191.71 L472.27,193.19 M311.83,140.59 L313.25,139.66 L314.68,138.74 L316.10,137.81 L317.52,136.88 L318.95,135.96 L320.38,135.05 L321.82,134.16 L323.28,133.28 L324.75,132.43 L326.22,131.57 L327.68,130.72 L329.15,129.87 L330.63,129.03 L332.10,128.19 L333.58,127.34 L335.05,126.50 L336.52,125.65 L337.99,124.80 L339.46,123.95 L340.93,123.10 L342.40,122.24 L343.86,121.38 L345.32,120.52 L346.78,119.66 L348.25,118.80 L349.71,117.94 L351.17,117.08 L352.63,116.22 L354.10,115.35 L355.55,114.48 L357.01,113.61 L358.46,112.72 L359.89,111.81 L361.31,110.88 L362.75,109.98 L364.21,109.12 L365.69,108.28 L367.16,107.44 L368.65,106.62 L370.14,105.82 L371.64,105.04 L373.16,104.29 L374.69,103.57 L376.23,102.88 L377.77,102.21 L379.32,101.56 L380.88,100.93 L382.43,100.31 L384.00,99.71 L385.56,99.13 L387.13,98.56 L388.71,98.02 L390.29,97.51 L391.86,97.01 L393.43,96.52 L394.97,96.02 L396.38,95.40 L397.51,94.66 L398.74,94.01 L400.38,94.32 L401.93,94.89 L403.44,95.56 L404.92,96.33 L406.36,97.18 L407.77,98.11 L409.15,99.09 L410.48,100.14 L411.61,101.36 L412.64,102.66 L413.62,104.00 L414.58,105.35 L415.54,106.72 L416.53,108.09 L417.52,109.46 L418.47,110.87 L419.36,112.31 L420.22,113.77 L421.08,115.23 L421.92,116.70 L422.74,118.19 L423.54,119.68 L424.36,121.16 L425.21,122.63 L426.08,124.08 L426.96,125.52 L427.86,126.96 L428.77,128.38 L429.71,129.79 L430.68,131.18 L431.71,132.54 L432.75,133.88 L433.77,135.23 L434.77,136.61 L435.76,137.98 L436.76,139.36 L437.75,140.73 L438.74,142.11 L439.74,143.48 L440.73,144.86 L441.72,146.23 L442.72,147.61 L443.70,148.98 L444.69,150.37 L445.67,151.75 L446.64,153.14 L447.60,154.54 L448.56,155.94 L449.51,157.34 L450.44,158.76 L451.38,160.18 L452.30,161.60 L453.22,163.03 L454.14,164.46 L455.04,165.89 L455.95,167.33 L456.85,168.77 L457.74,170.21 L458.64,171.65 L459.54,173.09 L460.43,174.53 L461.33,175.98 L462.22,177.42 L463.12,178.86 L464.01,180.31 L464.90,181.75 L465.79,183.20 L466.68,184.64 L467.57,186.09 L468.46,187.53 L469.35,188.98 L470.24,190.42 L471.14,191.87 L472.03,193.31 M312.09,141.16 L313.49,140.26 L314.88,139.35 L316.28,138.45 L317.68,137.55 L319.08,136.65 L320.48,135.76 L321.90,134.88 L323.32,134.02 L324.75,133.17 L326.18,132.33 L327.62,131.49 L329.06,130.65 L330.50,129.82 L331.94,128.99 L333.38,128.16 L334.83,127.33 L336.27,126.50 L337.71,125.67 L339.16,124.85 L340.60,124.01 L342.04,123.18 L343.48,122.35 L344.92,121.52 L346.36,120.69 L347.80,119.86 L349.24,119.03 L350.68,118.20 L352.12,117.37 L353.56,116.54 L355.00,115.70 L356.43,114.85 L357.85,113.99 L359.26,113.09 L360.65,112.18 L362.06,111.30 L363.50,110.47 L364.95,109.66 L366.41,108.86 L367.88,108.08 L369.35,107.32 L370.84,106.59 L372.35,105.89 L373.87,105.23 L375.40,104.61 L376.94,104.01 L378.49,103.44 L380.04,102.89 L381.60,102.36 L383.16,101.84 L384.72,101.35 L386.30,100.88 L387.87,100.45 L389.45,100.04 L391.03,99.66 L392.61,99.31 L394.16,98.95 L395.63,98.53 L396.92,98.04 L398.27,97.62 L399.89,97.87 L401.45,98.32 L402.98,98.88 L404.48,99.55 L405.93,100.32 L407.34,101.18 L408.72,102.11 L410.04,103.11 L411.22,104.25 L412.32,105.45 L413.36,106.70 L414.39,107.98 L415.40,109.27 L416.42,110.57 L417.41,111.90 L418.36,113.27 L419.26,114.66 L420.14,116.07 L421.00,117.49 L421.86,118.91 L422.68,120.35 L423.49,121.81 L424.32,123.25 L425.18,124.67 L426.06,126.07 L426.97,127.46 L427.88,128.84 L428.81,130.22 L429.76,131.58 L430.74,132.92 L431.74,134.25 L432.76,135.56 L433.77,136.89 L434.76,138.22 L435.75,139.56 L436.74,140.90 L437.73,142.23 L438.72,143.57 L439.71,144.90 L440.70,146.24 L441.70,147.57 L442.69,148.90 L443.68,150.24 L444.67,151.57 L445.65,152.92 L446.62,154.26 L447.58,155.62 L448.54,156.98 L449.49,158.34 L450.42,159.72 L451.35,161.10 L452.27,162.48 L453.18,163.87 L454.09,165.27 L454.99,166.67 L455.89,168.07 L456.78,169.47 L457.67,170.88 L458.56,172.28 L459.45,173.69 L460.34,175.09 L461.22,176.50 L462.11,177.91 L462.99,179.32 L463.87,180.73 L464.75,182.14 L465.63,183.55 L466.51,184.97 L467.39,186.38 L468.27,187.79 L469.15,189.21 L470.03,190.62 L470.91,192.03 L471.79,193.44 M312.34,141.73 L313.72,140.85 L315.09,139.97 L316.46,139.09 L317.83,138.21 L319.21,137.34 L320.58,136.46 L321.97,135.60 L323.35,134.75 L324.75,133.91 L326.15,133.08 L327.55,132.25 L328.96,131.42 L330.37,130.61 L331.78,129.79 L333.19,128.98 L334.60,128.16 L336.02,127.35 L337.43,126.55 L338.85,125.74 L340.26,124.93 L341.68,124.12 L343.09,123.32 L344.51,122.51 L345.93,121.71 L347.35,120.92 L348.77,120.12 L350.19,119.32 L351.61,118.52 L353.03,117.72 L354.45,116.91 L355.86,116.10 L357.25,115.25 L358.63,114.38 L359.99,113.48 L361.37,112.62 L362.79,111.81 L364.22,111.04 L365.66,110.28 L367.11,109.54 L368.57,108.82 L370.05,108.13 L371.54,107.49 L373.05,106.89 L374.57,106.34 L376.11,105.82 L377.65,105.32 L379.20,104.85 L380.76,104.40 L382.32,103.98 L383.88,103.58 L385.46,103.21 L387.03,102.87 L388.61,102.58 L390.20,102.32 L391.78,102.09 L393.36,101.88 L394.89,101.66 L396.33,101.42 L397.81,101.24 L399.41,101.42 L400.98,101.75 L402.53,102.20 L404.04,102.77 L405.50,103.46 L406.91,104.26 L408.28,105.14 L409.60,106.09 L410.83,107.14 L411.99,108.25 L413.11,109.41 L414.19,110.60 L415.25,111.82 L416.30,113.06 L417.30,114.34 L418.25,115.66 L419.16,117.01 L420.05,118.38 L420.93,119.74 L421.80,121.12 L422.63,122.52 L423.44,123.93 L424.27,125.33 L425.15,126.71 L426.05,128.06 L426.97,129.40 L427.91,130.73 L428.86,132.05 L429.82,133.36 L430.79,134.67 L431.78,135.96 L432.78,137.25 L433.77,138.54 L434.76,139.84 L435.74,141.14 L436.72,142.44 L437.71,143.74 L438.69,145.03 L439.68,146.33 L440.68,147.62 L441.67,148.91 L442.66,150.20 L443.66,151.49 L444.64,152.78 L445.63,154.08 L446.60,155.38 L447.57,156.70 L448.52,158.01 L449.47,159.34 L450.40,160.68 L451.32,162.02 L452.24,163.37 L453.14,164.72 L454.04,166.08 L454.94,167.44 L455.83,168.81 L456.71,170.18 L457.59,171.55 L458.48,172.92 L459.36,174.29 L460.24,175.66 L461.12,177.03 L461.99,178.40 L462.87,179.78 L463.74,181.15 L464.61,182.53 L465.48,183.91 L466.34,185.29 L467.21,186.67 L468.07,188.05 L468.94,189.43 L469.81,190.81 L470.67,192.19 L471.54,193.57" fill="none" stroke="#ff9ccd" stroke-width="0.4" opacity="0.8"/>
<path d="M310.8,138.3 Q311.7,140.3 312.6,142.3 M314.4,135.9 Q315.1,138.1 315.7,140.3 M317.9,133.5 Q318.4,135.9 318.9,138.3 M321.5,131.3 Q321.8,133.8 322.0,136.3 M325.3,129.2 Q325.2,131.8 325.2,134.4 M329.0,127.1 Q328.7,129.8 328.4,132.5 M332.7,125.0 Q332.2,127.8 331.6,130.6 M336.5,122.9 Q335.7,125.8 334.8,128.7 M340.2,120.7 Q339.1,123.8 338.1,126.9 M343.8,118.5 Q342.6,121.8 341.3,125.1 M347.5,116.2 Q346.0,119.7 344.6,123.3 M351.1,113.9 Q349.5,117.7 347.8,121.5 M354.7,111.6 Q352.9,115.6 351.1,119.7 M358.3,109.3 Q356.3,113.6 354.4,117.9 M361.9,107.0 Q359.7,111.5 357.5,116.0 M365.5,104.7 Q363.1,109.3 360.7,113.9 M369.1,102.4 Q366.5,107.3 364.0,112.2 M372.8,100.1 Q370.0,105.3 367.3,110.5 M376.4,97.9 Q373.6,103.5 370.7,109.1 M380.0,95.6 Q377.2,101.8 374.3,107.9 M383.7,93.4 Q380.8,100.2 377.9,106.9 M387.4,91.2 Q384.4,98.6 381.5,106.1 M391.0,89.0 Q388.1,97.2 385.1,105.4 M394.7,86.7 Q391.8,95.9 388.8,105.0 M398.2,84.3 Q395.4,94.6 392.6,104.8 M400.0,80.5 Q398.1,92.7 396.3,104.8 M403.3,80.8 Q401.7,92.9 400.0,105.1 M406.7,83.4 Q405.1,94.7 403.6,106.0 M410.0,86.2 Q408.4,96.9 406.9,107.6 M412.9,89.3 Q411.4,99.5 410.0,109.7 M414.7,93.2 Q413.7,102.6 412.8,112.1 M416.4,97.1 Q415.9,105.9 415.5,114.8 M418.6,100.8 Q418.2,109.2 417.8,117.6 M420.6,104.6 Q420.3,112.6 420.0,120.7 M422.4,108.4 Q422.2,116.1 422.0,123.8 M424.3,112.3 Q424.1,119.6 423.9,127.0 M426.1,116.1 Q426.1,123.1 426.0,130.0 M428.0,120.0 Q428.1,126.5 428.3,133.0 M430.1,123.7 Q430.3,129.8 430.5,136.0 M432.7,127.1 Q432.7,133.0 432.8,138.9 M435.1,130.6 Q435.1,136.3 435.1,141.9 M437.5,134.2 Q437.4,139.5 437.4,144.8 M439.8,137.8 Q439.7,142.8 439.7,147.7 M442.2,141.4 Q442.1,146.0 442.0,150.7 M444.5,145.0 Q444.4,149.3 444.3,153.6 M446.7,148.7 Q446.6,152.6 446.6,156.5 M448.9,152.3 Q448.9,155.9 448.8,159.5 M451.2,156.0 Q451.1,159.2 451.0,162.5 M453.4,159.6 Q453.2,162.6 453.1,165.6 M455.6,163.3 Q455.4,166.0 455.2,168.7 M457.7,167.0 Q457.5,169.4 457.2,171.8 M459.9,170.7 Q459.6,172.8 459.3,174.9 M462.1,174.4 Q461.7,176.2 461.3,178.0 M464.2,178.1 Q463.8,179.6 463.3,181.1 M466.4,181.8 Q465.9,183.0 465.3,184.3 M468.6,185.4 Q468.0,186.4 467.3,187.4 M470.8,189.1 Q470.1,189.8 469.3,190.6 M473.0,192.8 Q472.1,193.2 471.3,193.7" fill="none" stroke="#ff9ccd" stroke-width="0.4" opacity="0.8"/>
<radialGradient id="gC" gradientUnits="userSpaceOnUse" cx="407" cy="76" r="80"><stop offset="0" stop-color="#c8fafc"/><stop offset="0.25" stop-color="#94f4f8"/><stop offset="0.5" stop-color="#5ceef6"/><stop offset="1" stop-color="#3aeaf4"/></radialGradient>
<polygon points="377.00,27.00 377.35,27.77 377.70,28.54 378.05,29.32 378.39,30.09 378.74,30.86 379.09,31.64 379.43,32.41 379.78,33.18 380.14,33.95 380.49,34.72 380.85,35.49 381.22,36.25 381.60,37.01 381.99,37.76 382.40,38.50 382.82,39.24 383.23,39.98 383.65,40.72 384.05,41.46 384.45,42.21 384.85,42.96 385.24,43.70 385.64,44.45 386.04,45.20 386.44,45.95 386.84,46.70 387.24,47.44 387.64,48.19 388.04,48.94 388.43,49.69 388.83,50.44 389.22,51.19 389.61,51.94 390.00,52.69 390.39,53.45 390.78,54.20 391.17,54.95 391.57,55.69 391.97,56.44 392.38,57.19 392.78,57.93 393.18,58.67 393.59,59.42 393.99,60.17 394.39,60.91 394.79,61.66 395.19,62.41 395.58,63.16 395.98,63.90 396.38,64.65 396.78,65.40 397.18,66.15 397.58,66.89 397.98,67.64 398.38,68.38 398.79,69.13 399.19,69.88 399.58,70.62 399.98,71.38 400.37,72.13 400.77,72.87 401.19,73.61 401.60,74.35 401.99,75.10 402.32,75.88 402.50,76.71 402.19,77.48 401.60,78.08 401.08,78.74 401.23,79.51 401.87,80.06 402.58,80.52 403.32,80.95 404.06,81.35 404.82,81.74 405.58,82.11 406.35,82.46 407.13,82.79 407.92,83.10 408.72,83.37 409.55,83.49 409.97,82.86 409.85,82.03 409.73,81.19 409.86,80.36 410.25,79.61 410.70,78.90 411.21,78.21 411.75,77.56 412.32,76.94 412.94,76.36 413.60,75.83 414.29,75.34 415.00,74.88 415.73,74.44 416.46,74.02 417.20,73.60 417.94,73.19 418.67,72.77 419.41,72.35 420.14,71.92 420.87,71.48 421.59,71.05 422.32,70.61 423.05,70.18 423.77,69.74 424.50,69.31 425.23,68.87 425.95,68.43 426.68,68.00 427.41,67.56 428.13,67.13 428.86,66.70 429.59,66.26 430.32,65.83 431.05,65.40 431.78,64.97 432.51,64.54 433.24,64.11 433.97,63.69 434.70,63.26 435.44,62.83 436.17,62.41 436.90,61.98 437.64,61.56 438.37,61.14 439.11,60.72 439.85,60.30 440.59,59.89 441.33,59.48 442.07,59.07 442.82,58.67 443.56,58.27 444.31,57.86 445.05,57.46 445.80,57.06 446.54,56.65 447.28,56.24 448.02,55.83 448.76,55.42 449.50,55.00 450.24,54.58 450.97,54.16 451.70,53.73 452.43,53.30 453.17,52.88 453.90,52.45 454.63,52.02 455.36,51.59 456.08,51.15 456.81,50.72 457.54,50.28 458.26,49.85 458.99,49.41 459.72,48.97 460.44,48.53 461.16,48.09 461.89,47.65 462.61,47.20 463.33,46.76 464.05,46.31 464.76,45.86 465.48,45.41 466.20,44.96 466.92,44.51 467.64,44.06 468.36,43.62 469.08,43.17 469.80,42.73 470.52,42.29 471.25,41.85 471.97,41.41 472.70,40.97 473.42,40.53 474.15,40.09 474.87,39.66 475.60,39.22 476.33,38.79 477.06,38.35 477.78,37.92 478.51,37.48 479.24,37.05 479.97,36.62 480.69,36.18 481.42,35.75 482.15,35.32 482.88,34.88 483.61,34.45 484.34,34.02 485.07,33.59 485.80,33.16 486.53,32.73 487.26,32.30 487.99,31.87 488.72,31.44 489.45,31.01 490.18,30.58 490.91,30.15 491.64,29.72 482.00,28.00 481.51,28.35 481.01,28.70 480.51,29.04 480.02,29.39 479.52,29.73 479.03,30.08 478.53,30.42 478.03,30.77 477.54,31.11 477.04,31.46 476.55,31.81 476.05,32.16 475.56,32.51 475.07,32.86 474.58,33.21 474.09,33.57 473.60,33.93 473.12,34.29 472.64,34.66 472.16,35.03 471.69,35.41 471.22,35.79 470.76,36.18 470.29,36.56 469.82,36.95 469.36,37.33 468.89,37.71 468.42,38.09 467.94,38.46 467.46,38.83 466.97,39.18 466.47,39.52 465.96,39.85 465.45,40.18 464.93,40.49 464.41,40.79 463.88,41.09 463.35,41.37 462.81,41.65 462.27,41.92 461.72,42.18 461.18,42.44 460.63,42.70 460.09,42.96 459.54,43.22 458.99,43.47 458.44,43.72 457.89,43.97 457.34,44.22 456.78,44.46 456.23,44.71 455.68,44.95 455.12,45.19 454.57,45.43 454.01,45.67 453.45,45.90 452.90,46.14 452.34,46.38 451.78,46.61 451.23,46.84 450.67,47.08 450.11,47.31 449.55,47.54 448.99,47.77 448.43,48.00 447.87,48.22 447.31,48.45 446.75,48.67 446.18,48.89 445.62,49.11 445.06,49.33 444.49,49.55 443.93,49.76 443.36,49.97 442.79,50.19 442.23,50.40 441.66,50.60 441.09,50.81 440.52,51.01 439.95,51.22 439.38,51.42 438.81,51.62 438.24,51.83 437.67,52.03 437.10,52.23 436.53,52.43 435.96,52.63 435.39,52.83 434.82,53.02 434.25,53.22 433.67,53.41 433.10,53.59 432.52,53.78 431.94,53.95 431.36,54.13 430.78,54.30 430.20,54.46 429.62,54.62 429.03,54.77 428.44,54.91 427.86,55.05 427.27,55.18 426.67,55.31 426.08,55.43 425.49,55.55 424.89,55.66 424.30,55.77 423.71,55.88 423.11,55.98 422.51,56.09 421.92,56.19 421.32,56.28 420.72,56.38 420.13,56.48 419.53,56.57 418.93,56.67 418.33,56.75 417.73,56.82 417.13,56.88 416.53,56.93 415.92,56.96 415.32,56.99 414.72,57.01 414.11,57.02 413.51,57.02 412.90,57.00 412.30,56.97 411.70,56.90 411.10,56.82 410.50,56.71 409.91,56.59 409.32,56.46 408.74,56.30 408.16,56.11 407.60,55.90 407.04,55.66 406.50,55.40 405.96,55.12 405.43,54.82 404.92,54.51 404.40,54.19 403.89,53.87 403.39,53.53 402.88,53.20 402.38,52.86 401.88,52.52 401.38,52.19 400.88,51.85 400.37,51.52 399.87,51.18 399.37,50.84 398.88,50.49 398.39,50.13 397.92,49.76 397.45,49.37 397.00,48.97 396.56,48.56 396.13,48.13 395.70,47.70 395.29,47.26 394.88,46.81 394.48,46.36 394.09,45.90 393.70,45.44 393.31,44.97 392.93,44.50 392.55,44.03 392.18,43.56 391.81,43.08 391.44,42.60 391.08,42.11 390.72,41.62 390.37,41.13 390.02,40.64 389.67,40.15 389.32,39.65 388.98,39.15 388.64,38.65 388.31,38.15 387.98,37.64 387.65,37.13 387.33,36.62 387.01,36.11 386.70,35.59 386.39,35.07 386.10,34.54 385.81,34.01 385.53,33.47 385.27,32.93 385.02,32.38 384.78,31.82 384.56,31.26 384.34,30.69 384.14,30.12 383.94,29.55 383.73,28.98 383.53,28.41 383.32,27.85 383.11,27.28" fill="url(#gC)"/>
<path d="M378.20,27.00 L378.68,28.10 L379.16,29.19 L379.64,30.29 L380.12,31.39 L380.60,32.49 L381.09,33.58 L381.59,34.67 L382.11,35.75 L382.66,36.81 L383.23,37.87 L383.82,38.91 L384.41,39.95 L384.99,41.00 L385.57,42.05 L386.15,43.09 L386.73,44.14 L387.31,45.19 L387.90,46.23 L388.49,47.27 L389.07,48.32 L389.66,49.36 L390.23,50.41 L390.81,51.45 L391.40,52.49 L391.99,53.53 L392.59,54.56 L393.20,55.59 L393.82,56.61 L394.43,57.63 L395.05,58.64 L395.67,59.65 L396.29,60.66 L396.92,61.66 L397.55,62.66 L398.18,63.65 L398.81,64.65 L399.44,65.65 L400.08,66.64 L400.71,67.64 L401.33,68.64 L401.97,69.62 L402.63,70.59 L403.25,71.57 L403.69,72.61 L403.39,73.52 L402.90,74.32 L403.45,75.21 L404.47,75.81 L405.53,76.32 L406.61,76.79 L407.71,77.23 L408.83,77.63 L409.96,77.98 L411.13,78.16 L411.61,77.30 L411.63,76.28 L412.06,75.28 L412.77,74.38 L413.56,73.54 L414.42,72.76 L415.35,72.05 L416.35,71.42 L417.39,70.83 L418.44,70.29 L419.51,69.75 L420.57,69.21 L421.63,68.66 L422.68,68.10 L423.72,67.53 L424.77,66.95 L425.81,66.37 L426.86,65.79 L427.90,65.22 L428.95,64.63 L429.99,64.06 L431.04,63.48 L432.08,62.90 L433.13,62.32 L434.18,61.75 L435.23,61.17 L436.28,60.60 L437.32,60.03 L438.38,59.45 L439.43,58.89 L440.48,58.32 L441.54,57.76 L442.60,57.20 L443.66,56.65 L444.72,56.10 L445.78,55.54 L446.84,54.99 L447.90,54.43 L448.96,53.87 L450.01,53.30 L451.06,52.72 L452.11,52.14 L453.15,51.56 L454.20,50.97 L455.24,50.38 L456.28,49.79 L457.32,49.19 L458.35,48.60 L459.39,48.00 L460.42,47.39 L461.46,46.78 L462.48,46.17 L463.51,45.56 L464.53,44.93 L465.56,44.31 L466.57,43.68 L467.59,43.04 L468.61,42.41 L469.62,41.77 L470.63,41.13 L471.65,40.49 L472.66,39.85 L473.67,39.21 L474.68,38.57 L475.69,37.94 L476.71,37.30 L477.72,36.67 L478.74,36.04 L479.76,35.41 L480.78,34.79 L481.81,34.17 L482.83,33.54 L483.85,32.92 L484.88,32.30 L485.90,31.68 L486.93,31.06 L487.95,30.44 L488.98,29.82 L490.00,29.20 M379.40,27.00 L379.84,28.03 L380.28,29.07 L380.71,30.11 L381.15,31.15 L381.59,32.18 L382.04,33.21 L382.51,34.23 L383.00,35.25 L383.52,36.25 L384.06,37.23 L384.62,38.21 L385.18,39.18 L385.74,40.16 L386.30,41.13 L386.86,42.11 L387.42,43.08 L387.99,44.05 L388.56,45.02 L389.14,45.98 L389.71,46.95 L390.29,47.91 L390.86,48.87 L391.44,49.83 L392.02,50.79 L392.62,51.74 L393.22,52.68 L393.83,53.61 L394.45,54.54 L395.07,55.46 L395.71,56.37 L396.35,57.27 L397.00,58.16 L397.66,59.04 L398.32,59.91 L398.98,60.79 L399.64,61.66 L400.30,62.53 L400.97,63.41 L401.63,64.28 L402.29,65.14 L402.97,65.99 L403.67,66.82 L404.34,67.65 L404.88,68.51 L404.87,69.26 L404.73,69.90 L405.36,70.61 L406.35,71.09 L407.37,71.49 L408.41,71.85 L409.46,72.17 L410.53,72.47 L411.60,72.72 L412.70,72.84 L413.29,72.16 L413.53,71.36 L414.08,70.58 L414.83,69.87 L415.65,69.20 L416.52,68.58 L417.44,68.00 L418.41,67.49 L419.41,67.01 L420.43,66.56 L421.45,66.11 L422.46,65.66 L423.48,65.19 L424.48,64.71 L425.49,64.22 L426.49,63.72 L427.49,63.22 L428.49,62.72 L429.49,62.22 L430.49,61.71 L431.48,61.20 L432.48,60.69 L433.48,60.18 L434.48,59.67 L435.48,59.17 L436.48,58.66 L437.48,58.15 L438.48,57.64 L439.48,57.14 L440.48,56.63 L441.48,56.13 L442.49,55.62 L443.49,55.12 L444.50,54.62 L445.51,54.13 L446.51,53.63 L447.52,53.13 L448.52,52.62 L449.53,52.11 L450.53,51.60 L451.52,51.08 L452.51,50.55 L453.51,50.03 L454.50,49.50 L455.49,48.96 L456.47,48.43 L457.46,47.89 L458.44,47.35 L459.43,46.80 L460.41,46.25 L461.39,45.70 L462.36,45.14 L463.34,44.58 L464.30,44.01 L465.27,43.43 L466.23,42.84 L467.18,42.25 L468.13,41.64 L469.08,41.03 L470.02,40.42 L470.96,39.80 L471.89,39.17 L472.82,38.55 L473.76,37.93 L474.69,37.30 L475.63,36.69 L476.57,36.08 L477.52,35.47 L478.47,34.86 L479.42,34.26 L480.37,33.66 L481.32,33.07 L482.27,32.47 L483.23,31.88 L484.18,31.28 L485.14,30.69 L486.09,30.09 L487.05,29.50 L488.00,28.90 M380.60,27.00 L381.00,27.97 L381.40,28.95 L381.79,29.92 L382.18,30.90 L382.58,31.87 L382.99,32.84 L383.43,33.80 L383.89,34.74 L384.38,35.68 L384.89,36.60 L385.42,37.51 L385.95,38.41 L386.49,39.32 L387.02,40.22 L387.57,41.12 L388.11,42.02 L388.67,42.91 L389.22,43.80 L389.78,44.69 L390.35,45.58 L390.92,46.46 L391.49,47.34 L392.06,48.21 L392.65,49.08 L393.24,49.94 L393.84,50.80 L394.45,51.64 L395.08,52.48 L395.71,53.30 L396.36,54.10 L397.03,54.89 L397.71,55.66 L398.39,56.42 L399.09,57.17 L399.78,57.92 L400.47,58.67 L401.16,59.42 L401.86,60.17 L402.55,60.92 L403.25,61.65 L403.97,62.37 L404.70,63.06 L405.42,63.74 L406.07,64.41 L406.36,64.99 L406.55,65.49 L407.27,66.01 L408.23,66.37 L409.22,66.66 L410.21,66.91 L411.21,67.12 L412.22,67.30 L413.24,67.46 L414.28,67.51 L414.97,67.03 L415.43,66.45 L416.09,65.88 L416.89,65.36 L417.74,64.87 L418.61,64.40 L419.53,63.96 L420.47,63.57 L421.44,63.19 L422.41,62.83 L423.39,62.47 L424.36,62.10 L425.33,61.72 L426.29,61.32 L427.25,60.91 L428.21,60.50 L429.17,60.07 L430.12,59.65 L431.07,59.22 L432.03,58.78 L432.98,58.34 L433.93,57.90 L434.88,57.46 L435.83,57.02 L436.78,56.58 L437.73,56.14 L438.68,55.70 L439.63,55.26 L440.59,54.82 L441.54,54.38 L442.49,53.93 L443.44,53.49 L444.39,53.05 L445.34,52.60 L446.30,52.16 L447.25,51.71 L448.20,51.26 L449.15,50.81 L450.09,50.36 L451.04,49.90 L451.98,49.43 L452.92,48.96 L453.86,48.49 L454.80,48.02 L455.73,47.54 L456.67,47.06 L457.60,46.58 L458.53,46.10 L459.46,45.61 L460.39,45.11 L461.32,44.61 L462.24,44.11 L463.16,43.60 L464.08,43.08 L464.98,42.55 L465.88,42.01 L466.78,41.45 L467.66,40.88 L468.54,40.30 L469.41,39.71 L470.27,39.10 L471.12,38.50 L471.98,37.89 L472.83,37.28 L473.69,36.67 L474.55,36.07 L475.42,35.48 L476.29,34.89 L477.17,34.31 L478.05,33.74 L478.93,33.16 L479.81,32.59 L480.70,32.02 L481.58,31.45 L482.46,30.88 L483.35,30.31 L484.23,29.74 L485.12,29.17 L486.00,28.60 M381.80,27.00 L382.16,27.91 L382.52,28.82 L382.86,29.74 L383.21,30.65 L383.57,31.57 L383.95,32.47 L384.35,33.36 L384.78,34.24 L385.24,35.11 L385.72,35.96 L386.21,36.81 L386.72,37.65 L387.23,38.48 L387.75,39.31 L388.27,40.14 L388.80,40.96 L389.34,41.78 L389.88,42.59 L390.43,43.40 L390.99,44.21 L391.55,45.01 L392.11,45.80 L392.69,46.59 L393.27,47.38 L393.86,48.15 L394.46,48.92 L395.08,49.67 L395.71,50.41 L396.36,51.13 L397.02,51.83 L397.71,52.51 L398.41,53.16 L399.13,53.80 L399.85,54.43 L400.58,55.05 L401.30,55.68 L402.02,56.31 L402.75,56.94 L403.48,57.55 L404.21,58.16 L404.96,58.74 L405.73,59.30 L406.51,59.82 L407.26,60.31 L407.84,60.72 L408.38,61.07 L409.19,61.41 L410.12,61.65 L411.06,61.83 L412.01,61.97 L412.97,62.06 L413.92,62.14 L414.89,62.19 L415.86,62.18 L416.65,61.89 L417.33,61.53 L418.11,61.18 L418.96,60.85 L419.83,60.53 L420.71,60.22 L421.62,59.92 L422.54,59.64 L423.46,59.37 L424.39,59.10 L425.33,58.82 L426.26,58.54 L427.18,58.24 L428.10,57.93 L429.02,57.61 L429.93,57.27 L430.84,56.93 L431.75,56.57 L432.66,56.22 L433.57,55.85 L434.47,55.49 L435.37,55.12 L436.28,54.75 L437.18,54.37 L438.08,54.00 L438.98,53.63 L439.89,53.26 L440.79,52.88 L441.69,52.50 L442.59,52.12 L443.49,51.74 L444.39,51.36 L445.29,50.97 L446.19,50.58 L447.08,50.19 L447.98,49.80 L448.87,49.40 L449.77,49.00 L450.66,48.60 L451.55,48.20 L452.44,47.79 L453.33,47.38 L454.21,46.96 L455.10,46.54 L455.98,46.13 L456.87,45.70 L457.75,45.28 L458.62,44.85 L459.50,44.41 L460.38,43.97 L461.25,43.53 L462.12,43.08 L462.98,42.62 L463.85,42.16 L464.70,41.67 L465.54,41.17 L466.37,40.65 L467.19,40.12 L468.00,39.56 L468.79,38.99 L469.58,38.41 L470.36,37.82 L471.13,37.22 L471.91,36.63 L472.69,36.04 L473.48,35.46 L474.27,34.88 L475.07,34.32 L475.87,33.76 L476.68,33.21 L477.49,32.66 L478.30,32.11 L479.12,31.57 L479.93,31.02 L480.74,30.48 L481.56,29.94 L482.37,29.39 L483.19,28.85 L484.00,28.30" fill="none" stroke="#22d8e4" stroke-width="0.4"/>
<path d="M377.0,27.0 Q380.0,27.0 383.0,27.0 M378.2,29.7 Q381.0,29.3 383.7,29.0 M379.4,32.4 Q381.9,31.7 384.4,31.0 M380.7,35.1 Q383.0,34.0 385.3,32.9 M382.0,37.8 Q384.1,36.3 386.2,34.8 M383.4,40.3 Q385.4,38.5 387.3,36.6 M384.8,43.0 Q386.7,40.7 388.5,38.4 M386.2,45.6 Q388.0,42.9 389.7,40.1 M387.6,48.2 Q389.3,45.0 390.9,41.9 M389.0,50.8 Q390.6,47.2 392.2,43.6 M390.4,53.4 Q391.9,49.3 393.5,45.2 M391.8,56.1 Q393.3,51.4 394.9,46.8 M393.2,58.7 Q394.8,53.5 396.3,48.3 M394.6,61.3 Q396.3,55.5 397.9,49.8 M396.0,63.9 Q397.8,57.5 399.6,51.0 M397.4,66.5 Q399.4,59.4 401.4,52.2 M398.8,69.1 Q401.0,61.2 403.1,53.4 M400.2,71.8 Q402.5,63.1 404.9,54.5 M401.6,74.4 Q404.2,64.9 406.8,55.5 M402.4,77.1 Q405.6,66.7 408.7,56.3 M401.2,79.5 Q406.0,68.1 410.8,56.8 M403.7,81.2 Q408.3,69.1 412.9,57.0 M406.3,82.5 Q410.7,69.7 415.0,57.0 M409.1,83.5 Q413.1,70.2 417.1,56.9 M409.7,81.2 Q414.5,68.9 419.2,56.6 M410.9,78.6 Q416.1,67.4 421.3,56.3 M412.9,76.4 Q418.2,66.1 423.4,55.9 M415.4,74.7 Q420.4,65.1 425.5,55.5 M417.9,73.2 Q422.7,64.2 427.6,55.1 M420.5,71.7 Q425.1,63.2 429.6,54.6 M423.0,70.2 Q427.4,62.1 431.7,54.0 M425.6,68.7 Q429.6,61.0 433.7,53.4 M428.1,67.1 Q431.9,59.9 435.7,52.7 M430.7,65.6 Q434.2,58.8 437.7,52.0 M433.2,64.1 Q436.5,57.7 439.7,51.3 M435.8,62.6 Q438.7,56.6 441.7,50.6 M438.4,61.1 Q441.0,55.5 443.6,49.9 M441.0,59.7 Q443.3,54.4 445.6,49.1 M443.6,58.3 Q445.6,53.3 447.6,48.3 M446.2,56.9 Q447.9,52.2 449.6,47.5 M448.8,55.4 Q450.1,51.1 451.5,46.7 M451.3,53.9 Q452.4,49.9 453.5,45.9 M453.9,52.4 Q454.6,48.8 455.4,45.1 M456.4,50.9 Q456.9,47.6 457.3,44.2 M459.0,49.4 Q459.1,46.4 459.3,43.3 M461.5,47.9 Q461.4,45.2 461.2,42.4 M464.0,46.3 Q463.6,43.9 463.1,41.5 M466.6,44.7 Q465.7,42.6 464.9,40.5 M469.1,43.2 Q467.9,41.3 466.7,39.4 M471.6,41.6 Q470.0,39.9 468.4,38.1 M474.1,40.1 Q472.1,38.4 470.1,36.8 M476.7,38.6 Q474.2,37.0 471.7,35.4 M479.2,37.0 Q476.3,35.6 473.4,34.1 M481.8,35.5 Q478.4,34.2 475.1,32.9 M484.3,34.0 Q480.6,32.8 476.8,31.6 M486.9,32.5 Q482.7,31.5 478.5,30.4 M489.4,31.0 Q484.9,30.1 480.3,29.2 M492.0,29.5 Q487.0,28.8 482.0,28.0" fill="none" stroke="#22d8e4" stroke-width="0.45"/>
<polygon points="409,57.5 410.8,57.5 410.9,66 410.8,74 408,75 404.2,74 406.8,66" fill="#fff" opacity="0.9"/>
<polygon points="403.5,74 406,73.5 409.5,75.5 413,74 413,77 410.5,80 409.8,85.5 404,85.5 400.5,83.5 402.5,78" fill="#fff"/>
<polygon points="377.00,27.00 377.44,27.97 377.89,28.96 378.34,29.98 378.80,30.99 379.25,32.00 379.69,32.98 380.12,33.92 380.53,34.80 380.92,35.62 381.28,36.36 381.61,37.02 381.92,37.61 382.21,38.16 382.49,38.66 382.76,39.14 383.02,39.59 383.28,40.05 383.54,40.51 383.80,41.00 384.07,41.49 384.32,41.98 384.58,42.46 384.83,42.93 385.08,43.40 385.33,43.86 385.58,44.33 385.82,44.79 386.07,45.26 386.33,45.74 386.58,46.21 386.83,46.67 387.08,47.14 387.33,47.60 387.58,48.07 387.83,48.54 388.08,49.02 388.34,49.51 388.60,50.00 388.86,50.51 389.13,51.02 389.40,51.54 389.68,52.07 389.95,52.60 390.23,53.14 390.50,53.67 390.78,54.21 391.06,54.74 391.34,55.26 391.62,55.78 391.89,56.29 392.17,56.80 392.44,57.31 392.72,57.82 393.01,58.35 393.30,58.88 393.59,59.43 393.90,60.00 394.22,60.59 394.54,61.20 394.87,61.82 395.21,62.46 395.55,63.10 395.90,63.75 396.25,64.40 396.59,65.04 396.93,65.68 397.27,66.32 397.62,66.96 397.97,67.61 398.32,68.27 398.67,68.92 399.02,69.57 399.36,70.21 399.69,70.83 400.01,71.43 400.30,72.00 400.59,72.55 400.89,73.09 401.18,73.61 401.47,74.12 401.74,74.61 401.98,75.08 402.19,75.54 402.35,75.98 402.47,76.40 402.52,76.80 402.51,77.16 402.44,77.50 402.34,77.81 402.20,78.11 402.03,78.40 401.85,78.69 401.66,78.98 401.47,79.28 401.30,79.60 401.13,79.93 400.96,80.27 400.78,80.62 400.59,80.96 400.39,81.31 400.19,81.66 399.98,82.00 399.75,82.33 399.52,82.65 399.29,82.95 399.10,83.20 398.95,83.43 398.81,83.63 398.65,83.83 398.44,84.05 398.17,84.30 397.81,84.60 397.33,84.96 396.70,85.40 395.91,85.92 394.98,86.52 393.94,87.17 392.80,87.88 391.59,88.61 390.34,89.37 389.07,90.13 387.81,90.89 386.59,91.64 385.42,92.36 384.24,93.08 383.06,93.81 381.86,94.54 380.66,95.27 379.45,96.01 378.24,96.75 377.03,97.50 375.81,98.25 374.60,99.00 373.39,99.76 372.17,100.52 370.94,101.29 369.71,102.06 368.49,102.83 367.26,103.61 366.04,104.38 364.82,105.15 363.60,105.92 362.39,106.68 361.17,107.46 359.94,108.25 358.70,109.03 357.47,109.82 356.26,110.59 355.07,111.36 353.90,112.10 352.78,112.81 351.70,113.50 350.67,114.15 349.69,114.78 348.74,115.39 347.82,115.98 346.92,116.55 346.04,117.11 345.17,117.65 344.31,118.19 343.44,118.73 342.56,119.27 341.70,119.79 340.84,120.30 340.00,120.80 339.16,121.29 338.33,121.78 337.50,122.26 336.67,122.74 335.84,123.22 335.00,123.70 334.15,124.18 333.30,124.67 332.44,125.15 331.58,125.63 330.72,126.11 329.87,126.59 329.03,127.06 328.21,127.52 327.40,127.98 326.61,128.42 325.86,128.84 325.14,129.23 324.44,129.62 323.75,130.00 323.05,130.39 322.34,130.80 321.60,131.23 320.82,131.69 320.00,132.20 319.12,132.75 318.21,133.35 317.26,133.97 316.28,134.62 315.29,135.29 314.28,135.96 313.28,136.64 312.28,137.31 311.29,137.98 299.00,122.80 299.53,122.27 300.05,121.74 300.58,121.21 301.11,120.68 301.63,120.16 302.16,119.63 302.68,119.10 303.21,118.58 303.74,118.06 304.26,117.54 304.78,117.03 305.30,116.53 305.82,116.03 306.34,115.53 306.86,115.02 307.38,114.52 307.91,114.02 308.45,113.51 309.00,113.00 309.56,112.48 310.13,111.97 310.70,111.45 311.28,110.93 311.87,110.41 312.45,109.89 313.04,109.36 313.63,108.82 314.21,108.28 314.79,107.72 315.37,107.15 315.95,106.58 316.53,105.99 317.11,105.40 317.68,104.81 318.26,104.22 318.84,103.63 319.42,103.06 320.00,102.50 320.59,101.95 321.18,101.41 321.79,100.87 322.39,100.33 322.99,99.81 323.58,99.28 324.16,98.77 324.72,98.26 325.25,97.75 325.75,97.25 326.22,96.76 326.67,96.27 327.11,95.78 327.52,95.31 327.93,94.83 328.32,94.37 328.72,93.91 329.11,93.45 329.50,93.00 329.89,92.55 330.29,92.11 330.68,91.67 331.06,91.23 331.44,90.80 331.81,90.38 332.16,89.97 332.51,89.57 332.84,89.19 333.16,88.82 333.46,88.47 333.74,88.14 334.02,87.82 334.28,87.51 334.53,87.21 334.78,86.91 335.02,86.61 335.26,86.31 335.50,86.00 335.74,85.68 335.97,85.34 336.20,85.00 336.43,84.66 336.65,84.32 336.86,84.00 337.06,83.68 337.25,83.39 337.42,83.12 337.58,82.89 337.71,82.68 337.83,82.51 337.94,82.36 338.04,82.22 338.13,82.09 338.22,81.96 338.31,81.82 338.40,81.67 338.50,81.50 338.61,81.31 338.71,81.11 338.82,80.91 338.92,80.69 339.03,80.48 339.13,80.26 339.24,80.04 339.34,79.82 339.45,79.61 339.55,79.40 339.65,79.19 339.75,79.00 339.85,78.81 339.94,78.61 340.04,78.41 340.15,78.21 340.26,77.99 340.37,77.75 340.50,77.50 340.64,77.23 340.78,76.94 340.94,76.64 341.10,76.33 341.26,76.01 341.43,75.68 341.59,75.35 341.76,75.01 341.92,74.67 342.08,74.33 342.24,73.98 342.39,73.63 342.55,73.27 342.71,72.90 342.87,72.53 343.03,72.16 343.18,71.78 343.34,71.39 343.50,71.00 343.66,70.60 343.82,70.20 343.98,69.79 344.14,69.38 344.30,68.96 344.46,68.53 344.62,68.10 344.77,67.66 344.93,67.22 345.07,66.78 345.22,66.33 345.36,65.88 345.50,65.42 345.63,64.96 345.77,64.49 345.90,64.01 346.04,63.52 346.17,63.02 346.30,62.50 346.43,61.96 346.57,61.41 346.71,60.84 346.85,60.25 346.98,59.66 347.11,59.07 347.24,58.47 347.35,57.88 347.45,57.29 347.54,56.71 347.62,56.14 347.69,55.58 347.74,55.02 347.79,54.45 347.84,53.89 347.88,53.31 347.92,52.72 347.96,52.12 348.00,51.50 348.04,50.86 348.08,50.21 348.11,49.54 348.15,48.86 348.18,48.17 348.21,47.47 348.23,46.77 348.26,46.06 348.29,45.36 348.31,44.64 348.34,43.93 348.36,43.22 348.38,42.50 348.40,41.78 348.42,41.04 348.44,40.30 348.46,39.55 348.48,38.78 348.50,38.00 348.52,37.20 348.54,36.38 348.56,35.55 348.58,34.70 348.61,33.85 348.63,32.99 348.65,32.13 348.67,31.27 348.69,30.42" fill="url(#gL)"/>
<path d="M374.17,27.30 L374.76,28.74 L375.37,30.24 L375.98,31.73 L376.58,33.19 L377.15,34.57 L377.68,35.82 L378.15,36.91 L378.57,37.85 L378.96,38.68 L379.32,39.44 L379.67,40.16 L380.01,40.89 L380.37,41.66 L380.72,42.42 L381.06,43.17 L381.39,43.91 L381.72,44.64 L382.05,45.37 L382.38,46.10 L382.71,46.83 L383.04,47.54 L383.37,48.26 L383.71,48.98 L384.04,49.70 L384.38,50.45 L384.72,51.21 L385.06,52.00 L385.41,52.80 L385.76,53.61 L386.12,54.42 L386.47,55.22 L386.83,56.01 L387.18,56.78 L387.53,57.54 L387.89,58.31 L388.25,59.08 L388.62,59.87 L389.01,60.70 L389.42,61.57 L389.84,62.47 L390.27,63.39 L390.72,64.33 L391.16,65.27 L391.60,66.19 L392.03,67.11 L392.48,68.05 L392.94,68.99 L393.38,69.92 L393.82,70.83 L394.22,71.70 L394.59,72.52 L394.97,73.30 L395.34,74.05 L395.68,74.77 L395.98,75.45 L396.19,76.09 L396.30,76.69 L396.29,77.23 L396.17,77.71 L395.98,78.15 L395.73,78.57 L395.46,78.99 L395.20,79.44 L394.96,79.91 L394.71,80.40 L394.44,80.90 L394.16,81.41 L393.85,81.90 L393.53,82.37 L393.20,82.81 L392.95,83.17 L392.74,83.47 L392.50,83.77 L392.14,84.12 L391.60,84.56 L390.78,85.16 L389.64,85.93 L388.24,86.84 L386.64,87.85 L384.93,88.91 L383.19,90.00 L381.49,91.06 L379.87,92.08 L378.24,93.10 L376.59,94.13 L374.92,95.18 L373.24,96.23 L371.56,97.29 L369.88,98.36 L368.18,99.44 L366.48,100.54 L364.76,101.65 L363.05,102.76 L361.34,103.87 L359.65,104.97 L357.95,106.08 L356.22,107.21 L354.50,108.34 L352.80,109.46 L351.16,110.54 L349.58,111.57 L348.10,112.54 L346.70,113.46 L345.36,114.33 L344.07,115.18 L342.80,116.00 L341.54,116.81 L340.28,117.62 L339.03,118.40 L337.80,119.17 L336.58,119.92 L335.38,120.66 L334.17,121.40 L332.95,122.13 L331.72,122.87 L330.47,123.60 L329.22,124.33 L327.99,125.05 L326.77,125.76 L325.59,126.45 L324.45,127.12 L323.39,127.74 L322.37,128.33 L321.35,128.93 L320.31,129.56 L319.19,130.25 L317.98,131.03 L316.68,131.90 L315.31,132.83 L313.90,133.80 L312.46,134.79 L311.03,135.78 L309.62,136.75 M371.34,27.60 L371.86,29.03 L372.40,30.49 L372.94,31.97 L373.47,33.41 L373.97,34.77 L374.44,36.02 L374.85,37.11 L375.22,38.08 L375.57,38.94 L375.88,39.74 L376.19,40.50 L376.49,41.27 L376.80,42.07 L377.11,42.87 L377.41,43.65 L377.70,44.42 L377.98,45.18 L378.27,45.94 L378.56,46.70 L378.85,47.45 L379.14,48.19 L379.42,48.92 L379.71,49.65 L380.00,50.39 L380.28,51.14 L380.57,51.92 L380.86,52.72 L381.15,53.53 L381.44,54.35 L381.73,55.16 L382.02,55.97 L382.32,56.76 L382.61,57.53 L382.90,58.29 L383.19,59.04 L383.49,59.81 L383.80,60.59 L384.12,61.40 L384.46,62.25 L384.81,63.12 L385.17,64.01 L385.53,64.91 L385.90,65.82 L386.26,66.71 L386.62,67.59 L387.00,68.49 L387.37,69.39 L387.74,70.28 L388.10,71.14 L388.44,71.97 L388.74,72.76 L389.05,73.51 L389.35,74.23 L389.63,74.92 L389.86,75.58 L390.02,76.20 L390.10,76.78 L390.07,77.30 L389.95,77.77 L389.76,78.19 L389.52,78.60 L389.27,79.01 L389.02,79.43 L388.79,79.89 L388.54,80.36 L388.29,80.84 L388.02,81.33 L387.73,81.80 L387.43,82.25 L387.12,82.67 L386.88,83.02 L386.68,83.31 L386.45,83.60 L386.11,83.93 L385.61,84.35 L384.86,84.92 L383.82,85.65 L382.54,86.51 L381.09,87.46 L379.53,88.46 L377.95,89.48 L376.40,90.48 L374.92,91.44 L373.42,92.40 L371.91,93.37 L370.39,94.34 L368.85,95.33 L367.31,96.33 L365.76,97.34 L364.20,98.37 L362.62,99.41 L361.04,100.47 L359.45,101.53 L357.87,102.59 L356.30,103.64 L354.72,104.70 L353.12,105.78 L351.52,106.87 L349.95,107.94 L348.41,108.98 L346.94,109.98 L345.53,110.92 L344.20,111.82 L342.91,112.69 L341.66,113.53 L340.44,114.35 L339.22,115.16 L337.99,115.97 L336.78,116.76 L335.60,117.54 L334.42,118.31 L333.25,119.06 L332.08,119.81 L330.90,120.56 L329.71,121.31 L328.50,122.05 L327.29,122.78 L326.10,123.51 L324.92,124.22 L323.77,124.93 L322.68,125.61 L321.64,126.24 L320.65,126.85 L319.66,127.47 L318.64,128.11 L317.56,128.81 L316.40,129.59 L315.16,130.45 L313.85,131.36 L312.50,132.31 L311.14,133.28 L309.78,134.25 L308.44,135.20 M368.51,27.90 L368.96,29.31 L369.43,30.75 L369.90,32.20 L370.36,33.62 L370.79,34.97 L371.20,36.22 L371.56,37.32 L371.88,38.31 L372.17,39.20 L372.45,40.04 L372.71,40.84 L372.97,41.65 L373.24,42.48 L373.50,43.31 L373.76,44.13 L374.00,44.93 L374.25,45.73 L374.49,46.52 L374.74,47.30 L374.99,48.07 L375.23,48.83 L375.47,49.57 L375.71,50.32 L375.95,51.07 L376.19,51.84 L376.43,52.63 L376.66,53.44 L376.89,54.26 L377.12,55.08 L377.34,55.91 L377.57,56.72 L377.81,57.51 L378.04,58.28 L378.27,59.04 L378.50,59.78 L378.73,60.54 L378.98,61.31 L379.23,62.10 L379.50,62.92 L379.77,63.77 L380.06,64.63 L380.35,65.50 L380.64,66.36 L380.93,67.22 L381.21,68.06 L381.51,68.92 L381.81,69.78 L382.11,70.63 L382.39,71.45 L382.65,72.25 L382.89,73.00 L383.12,73.72 L383.36,74.41 L383.57,75.08 L383.74,75.71 L383.86,76.31 L383.90,76.87 L383.85,77.37 L383.72,77.82 L383.54,78.23 L383.31,78.63 L383.07,79.02 L382.83,79.43 L382.61,79.87 L382.38,80.32 L382.14,80.79 L381.88,81.25 L381.61,81.70 L381.33,82.13 L381.04,82.54 L380.81,82.87 L380.62,83.15 L380.40,83.43 L380.09,83.74 L379.62,84.15 L378.94,84.68 L378.00,85.37 L376.84,86.17 L375.53,87.06 L374.13,88.01 L372.70,88.96 L371.30,89.90 L369.96,90.80 L368.61,91.69 L367.24,92.60 L365.86,93.51 L364.47,94.43 L363.06,95.37 L361.65,96.32 L360.22,97.29 L358.77,98.28 L357.32,99.29 L355.86,100.29 L354.40,101.30 L352.95,102.31 L351.49,103.33 L350.02,104.36 L348.55,105.39 L347.09,106.42 L345.67,107.42 L344.29,108.39 L342.97,109.31 L341.69,110.19 L340.46,111.05 L339.25,111.88 L338.07,112.70 L336.89,113.51 L335.71,114.32 L334.54,115.12 L333.39,115.91 L332.26,116.69 L331.12,117.47 L329.99,118.23 L328.85,118.99 L327.70,119.74 L326.53,120.49 L325.37,121.24 L324.21,121.97 L323.07,122.69 L321.96,123.41 L320.90,124.10 L319.89,124.75 L318.92,125.38 L317.96,126.01 L316.97,126.67 L315.93,127.37 L314.82,128.15 L313.63,128.99 L312.39,129.89 L311.11,130.83 L309.82,131.78 L308.53,132.72 L307.26,133.65 M365.68,28.20 L366.06,29.59 L366.46,31.01 L366.86,32.44 L367.24,33.84 L367.61,35.17 L367.95,36.41 L368.26,37.53 L368.53,38.54 L368.78,39.47 L369.01,40.34 L369.23,41.18 L369.45,42.02 L369.67,42.89 L369.89,43.76 L370.11,44.61 L370.31,45.45 L370.52,46.27 L370.72,47.09 L370.92,47.90 L371.12,48.69 L371.32,49.47 L371.52,50.23 L371.72,50.99 L371.91,51.76 L372.10,52.54 L372.28,53.34 L372.46,54.16 L372.63,54.99 L372.79,55.82 L372.96,56.65 L373.13,57.47 L373.30,58.26 L373.47,59.03 L373.63,59.78 L373.80,60.52 L373.98,61.27 L374.15,62.02 L374.34,62.80 L374.54,63.60 L374.74,64.42 L374.95,65.25 L375.16,66.08 L375.38,66.91 L375.59,67.73 L375.80,68.54 L376.02,69.36 L376.25,70.17 L376.47,70.98 L376.68,71.76 L376.87,72.52 L377.03,73.23 L377.20,73.93 L377.37,74.59 L377.52,75.23 L377.63,75.85 L377.70,76.42 L377.70,76.96 L377.63,77.45 L377.50,77.88 L377.31,78.27 L377.10,78.65 L376.88,79.03 L376.65,79.42 L376.44,79.84 L376.22,80.28 L375.99,80.73 L375.74,81.17 L375.49,81.60 L375.22,82.02 L374.95,82.40 L374.74,82.72 L374.55,82.99 L374.35,83.25 L374.06,83.56 L373.64,83.94 L373.02,84.44 L372.18,85.08 L371.15,85.84 L369.98,86.67 L368.73,87.55 L367.45,88.45 L366.20,89.32 L365.00,90.16 L363.79,90.99 L362.57,91.83 L361.33,92.67 L360.08,93.53 L358.81,94.41 L357.53,95.30 L356.23,96.22 L354.92,97.15 L353.59,98.10 L352.26,99.06 L350.93,100.02 L349.60,100.98 L348.27,101.95 L346.92,102.93 L345.58,103.92 L344.24,104.90 L342.92,105.86 L341.64,106.80 L340.40,107.69 L339.19,108.56 L338.01,109.40 L336.85,110.23 L335.70,111.05 L334.56,111.86 L333.42,112.67 L332.30,113.48 L331.19,114.28 L330.09,115.08 L329.00,115.87 L327.90,116.65 L326.80,117.42 L325.69,118.18 L324.56,118.94 L323.44,119.69 L322.32,120.43 L321.22,121.16 L320.15,121.88 L319.12,122.58 L318.14,123.25 L317.20,123.90 L316.26,124.55 L315.31,125.22 L314.30,125.93 L313.24,126.71 L312.10,127.54 L310.93,128.43 L309.72,129.34 L308.50,130.27 L307.28,131.19 L306.08,132.10 M362.85,28.50 L363.17,29.87 L363.49,31.27 L363.82,32.67 L364.13,34.05 L364.44,35.37 L364.71,36.61 L364.96,37.74 L365.18,38.77 L365.39,39.73 L365.57,40.64 L365.75,41.52 L365.93,42.40 L366.11,43.30 L366.29,44.20 L366.46,45.08 L366.62,45.96 L366.78,46.82 L366.94,47.66 L367.10,48.50 L367.26,49.31 L367.42,50.11 L367.57,50.89 L367.72,51.66 L367.87,52.44 L368.01,53.23 L368.13,54.04 L368.25,54.88 L368.36,55.72 L368.47,56.56 L368.57,57.40 L368.68,58.22 L368.79,59.01 L368.89,59.78 L369.00,60.53 L369.11,61.26 L369.22,62.00 L369.33,62.74 L369.45,63.50 L369.58,64.28 L369.71,65.07 L369.84,65.87 L369.98,66.67 L370.12,67.46 L370.26,68.24 L370.39,69.02 L370.54,69.79 L370.68,70.57 L370.83,71.33 L370.96,72.07 L371.08,72.79 L371.18,73.47 L371.28,74.14 L371.38,74.78 L371.46,75.39 L371.51,75.98 L371.53,76.53 L371.50,77.05 L371.41,77.52 L371.27,77.93 L371.09,78.31 L370.89,78.68 L370.68,79.04 L370.47,79.42 L370.26,79.82 L370.05,80.24 L369.83,80.67 L369.61,81.09 L369.37,81.50 L369.12,81.90 L368.87,82.27 L368.67,82.57 L368.49,82.83 L368.30,83.08 L368.03,83.37 L367.65,83.73 L367.10,84.20 L366.36,84.80 L365.45,85.51 L364.42,86.28 L363.33,87.10 L362.20,87.93 L361.10,88.74 L360.05,89.51 L358.98,90.28 L357.90,91.06 L356.80,91.84 L355.69,92.63 L354.56,93.45 L353.42,94.28 L352.25,95.14 L351.07,96.03 L349.87,96.92 L348.66,97.83 L347.45,98.74 L346.25,99.65 L345.04,100.57 L343.82,101.50 L342.60,102.44 L341.38,103.38 L340.18,104.30 L338.99,105.21 L337.83,106.08 L336.68,106.93 L335.55,107.76 L334.44,108.58 L333.33,109.39 L332.23,110.21 L331.14,111.02 L330.06,111.84 L328.99,112.65 L327.93,113.47 L326.87,114.27 L325.81,115.07 L324.75,115.85 L323.68,116.62 L322.59,117.39 L321.51,118.14 L320.43,118.89 L319.37,119.63 L318.34,120.36 L317.34,121.07 L316.40,121.75 L315.48,122.42 L314.57,123.08 L313.64,123.77 L312.67,124.49 L311.65,125.26 L310.58,126.09 L309.47,126.96 L308.33,127.85 L307.18,128.76 L306.03,129.66 L304.90,130.55 M360.02,28.80 L360.27,30.15 L360.52,31.53 L360.77,32.91 L361.02,34.27 L361.26,35.58 L361.47,36.81 L361.67,37.95 L361.84,39.00 L361.99,39.99 L362.14,40.94 L362.27,41.86 L362.41,42.78 L362.55,43.71 L362.68,44.64 L362.81,45.56 L362.93,46.47 L363.05,47.36 L363.17,48.24 L363.28,49.10 L363.39,49.94 L363.51,50.75 L363.62,51.54 L363.73,52.33 L363.83,53.12 L363.91,53.93 L363.99,54.75 L364.05,55.60 L364.10,56.45 L364.14,57.30 L364.19,58.14 L364.23,58.97 L364.28,59.76 L364.32,60.53 L364.37,61.27 L364.41,62.00 L364.46,62.73 L364.51,63.46 L364.56,64.20 L364.62,64.96 L364.67,65.72 L364.73,66.48 L364.80,67.25 L364.86,68.01 L364.92,68.75 L364.98,69.49 L365.05,70.23 L365.12,70.96 L365.19,71.68 L365.25,72.38 L365.30,73.06 L365.33,73.71 L365.36,74.34 L365.39,74.96 L365.40,75.55 L365.40,76.11 L365.37,76.64 L365.30,77.14 L365.19,77.59 L365.05,77.99 L364.87,78.35 L364.68,78.70 L364.48,79.05 L364.28,79.41 L364.09,79.80 L363.89,80.20 L363.68,80.61 L363.47,81.01 L363.25,81.40 L363.02,81.78 L362.78,82.13 L362.59,82.42 L362.43,82.67 L362.24,82.91 L362.00,83.18 L361.66,83.52 L361.18,83.96 L360.53,84.52 L359.75,85.17 L358.87,85.89 L357.92,86.65 L356.96,87.41 L356.01,88.16 L355.09,88.87 L354.16,89.58 L353.22,90.29 L352.27,91.00 L351.30,91.73 L350.31,92.48 L349.30,93.26 L348.27,94.07 L347.21,94.90 L346.14,95.74 L345.06,96.60 L343.98,97.46 L342.90,98.32 L341.82,99.19 L340.72,100.08 L339.63,100.97 L338.53,101.86 L337.43,102.75 L336.34,103.61 L335.26,104.46 L334.18,105.30 L333.10,106.12 L332.03,106.93 L330.96,107.74 L329.90,108.56 L328.85,109.37 L327.81,110.20 L326.78,111.03 L325.76,111.85 L324.74,112.67 L323.72,113.48 L322.70,114.28 L321.67,115.06 L320.62,115.83 L319.58,116.60 L318.54,117.35 L317.52,118.10 L316.53,118.84 L315.56,119.56 L314.65,120.26 L313.75,120.94 L312.87,121.62 L311.97,122.32 L311.04,123.05 L310.07,123.82 L309.05,124.64 L308.00,125.49 L306.94,126.37 L305.86,127.25 L304.78,128.13 L303.72,129.00 M357.19,29.10 L357.37,30.43 L357.55,31.79 L357.73,33.14 L357.91,34.48 L358.08,35.78 L358.23,37.01 L358.37,38.16 L358.49,39.23 L358.60,40.25 L358.70,41.24 L358.80,42.20 L358.89,43.16 L358.98,44.12 L359.07,45.09 L359.16,46.04 L359.24,46.98 L359.31,47.91 L359.39,48.81 L359.46,49.70 L359.53,50.56 L359.60,51.39 L359.67,52.20 L359.73,53.00 L359.78,53.81 L359.82,54.62 L359.84,55.46 L359.85,56.32 L359.84,57.18 L359.82,58.04 L359.80,58.89 L359.78,59.72 L359.77,60.51 L359.75,61.28 L359.74,62.02 L359.72,62.74 L359.70,63.46 L359.69,64.18 L359.67,64.90 L359.66,65.63 L359.64,66.37 L359.63,67.10 L359.61,67.83 L359.60,68.56 L359.58,69.27 L359.57,69.97 L359.56,70.66 L359.56,71.35 L359.55,72.03 L359.54,72.70 L359.51,73.34 L359.48,73.95 L359.44,74.55 L359.40,75.14 L359.35,75.70 L359.28,76.24 L359.20,76.75 L359.10,77.23 L358.97,77.66 L358.82,78.04 L358.65,78.39 L358.47,78.73 L358.29,79.06 L358.10,79.41 L357.92,79.78 L357.73,80.16 L357.53,80.55 L357.33,80.93 L357.13,81.31 L356.91,81.66 L356.70,82.00 L356.52,82.27 L356.36,82.51 L356.19,82.74 L355.97,82.99 L355.67,83.31 L355.26,83.72 L354.71,84.24 L354.05,84.84 L353.31,85.50 L352.52,86.19 L351.71,86.89 L350.91,87.58 L350.13,88.23 L349.35,88.88 L348.55,89.52 L347.74,90.17 L346.91,90.84 L346.06,91.52 L345.19,92.24 L344.29,92.99 L343.36,93.77 L342.42,94.56 L341.47,95.36 L340.51,96.18 L339.55,96.99 L338.59,97.81 L337.62,98.65 L336.65,99.49 L335.67,100.34 L334.69,101.19 L333.69,102.02 L332.69,102.85 L331.67,103.66 L330.65,104.47 L329.62,105.28 L328.59,106.09 L327.57,106.90 L326.57,107.72 L325.57,108.56 L324.58,109.40 L323.60,110.24 L322.62,111.08 L321.63,111.90 L320.65,112.71 L319.66,113.50 L318.65,114.28 L317.65,115.05 L316.65,115.81 L315.67,116.57 L314.71,117.31 L313.79,118.05 L312.90,118.76 L312.03,119.46 L311.17,120.16 L310.30,120.87 L309.41,121.61 L308.49,122.38 L307.53,123.19 L306.54,124.03 L305.54,124.88 L304.54,125.74 L303.54,126.60 L302.54,127.45 M354.36,29.40 L354.47,30.71 L354.58,32.04 L354.69,33.38 L354.80,34.70 L354.90,35.98 L354.99,37.21 L355.07,38.36 L355.14,39.46 L355.21,40.52 L355.26,41.54 L355.32,42.54 L355.37,43.53 L355.42,44.53 L355.46,45.53 L355.51,46.52 L355.55,47.49 L355.58,48.45 L355.61,49.39 L355.64,50.30 L355.67,51.18 L355.69,52.03 L355.72,52.86 L355.74,53.67 L355.74,54.49 L355.73,55.32 L355.70,56.17 L355.64,57.03 L355.57,57.91 L355.50,58.78 L355.41,59.63 L355.33,60.46 L355.26,61.26 L355.18,62.02 L355.10,62.76 L355.02,63.48 L354.94,64.19 L354.86,64.89 L354.78,65.60 L354.69,66.31 L354.61,67.02 L354.52,67.72 L354.43,68.42 L354.34,69.10 L354.25,69.78 L354.16,70.44 L354.08,71.10 L353.99,71.75 L353.91,72.38 L353.82,73.01 L353.73,73.61 L353.63,74.19 L353.52,74.76 L353.41,75.32 L353.29,75.86 L353.17,76.38 L353.04,76.87 L352.90,77.32 L352.75,77.73 L352.60,78.10 L352.43,78.43 L352.27,78.75 L352.09,79.07 L351.92,79.40 L351.74,79.76 L351.56,80.12 L351.38,80.49 L351.20,80.85 L351.01,81.21 L350.81,81.55 L350.62,81.86 L350.45,82.12 L350.30,82.35 L350.14,82.56 L349.95,82.81 L349.69,83.10 L349.34,83.48 L348.89,83.95 L348.35,84.50 L347.76,85.11 L347.12,85.74 L346.46,86.38 L345.81,87.00 L345.18,87.59 L344.53,88.17 L343.88,88.75 L343.21,89.34 L342.52,89.94 L341.81,90.56 L341.07,91.22 L340.30,91.92 L339.51,92.64 L338.70,93.38 L337.87,94.13 L337.04,94.89 L336.20,95.66 L335.36,96.43 L334.52,97.22 L333.68,98.02 L332.82,98.82 L331.94,99.63 L331.04,100.43 L330.12,101.23 L329.17,102.03 L328.20,102.83 L327.21,103.63 L326.22,104.44 L325.24,105.25 L324.28,106.08 L323.33,106.92 L322.38,107.77 L321.43,108.63 L320.49,109.48 L319.55,110.32 L318.60,111.14 L317.65,111.94 L316.68,112.73 L315.72,113.51 L314.77,114.27 L313.82,115.03 L312.90,115.79 L312.01,116.54 L311.15,117.26 L310.31,117.98 L309.47,118.70 L308.64,119.42 L307.78,120.17 L306.90,120.94 L306.00,121.74 L305.08,122.56 L304.15,123.39 L303.22,124.23 L302.29,125.07 L301.36,125.90 M351.53,29.70 L351.57,30.99 L351.61,32.30 L351.65,33.61 L351.69,34.91 L351.72,36.18 L351.75,37.40 L351.78,38.57 L351.80,39.70 L351.81,40.78 L351.83,41.84 L351.84,42.88 L351.85,43.91 L351.85,44.94 L351.85,45.97 L351.86,47.00 L351.85,48.00 L351.85,48.99 L351.84,49.96 L351.82,50.90 L351.80,51.80 L351.79,52.67 L351.77,53.51 L351.74,54.35 L351.70,55.18 L351.64,56.02 L351.55,56.88 L351.44,57.75 L351.31,58.64 L351.17,59.52 L351.03,60.38 L350.88,61.21 L350.74,62.01 L350.61,62.77 L350.47,63.51 L350.33,64.22 L350.19,64.92 L350.04,65.61 L349.89,66.30 L349.73,66.99 L349.57,67.67 L349.41,68.34 L349.25,69.00 L349.08,69.65 L348.91,70.29 L348.75,70.92 L348.59,71.53 L348.43,72.14 L348.27,72.74 L348.11,73.32 L347.94,73.88 L347.77,74.43 L347.60,74.97 L347.42,75.50 L347.23,76.02 L347.05,76.51 L346.87,76.98 L346.70,77.41 L346.53,77.80 L346.37,78.15 L346.21,78.47 L346.06,78.78 L345.90,79.09 L345.74,79.40 L345.57,79.73 L345.40,80.08 L345.23,80.43 L345.06,80.77 L344.88,81.11 L344.71,81.43 L344.53,81.72 L344.38,81.97 L344.24,82.19 L344.09,82.39 L343.92,82.62 L343.70,82.89 L343.42,83.24 L343.07,83.67 L342.66,84.17 L342.20,84.71 L341.72,85.28 L341.22,85.86 L340.72,86.42 L340.22,86.95 L339.72,87.47 L339.21,87.98 L338.68,88.50 L338.13,89.04 L337.56,89.60 L336.96,90.21 L336.32,90.84 L335.66,91.51 L334.97,92.20 L334.27,92.90 L333.56,93.61 L332.85,94.33 L332.14,95.06 L331.42,95.79 L330.70,96.54 L329.96,97.30 L329.19,98.07 L328.40,98.84 L327.55,99.62 L326.66,100.40 L325.74,101.19 L324.80,101.98 L323.85,102.79 L322.92,103.60 L322.00,104.43 L321.08,105.28 L320.18,106.14 L319.27,107.01 L318.36,107.88 L317.46,108.74 L316.55,109.57 L315.64,110.38 L314.72,111.18 L313.79,111.96 L312.88,112.73 L311.97,113.50 L311.09,114.27 L310.23,115.02 L309.40,115.77 L308.58,116.50 L307.78,117.24 L306.97,117.98 L306.15,118.73 L305.32,119.50 L304.47,120.29 L303.62,121.09 L302.76,121.91 L301.90,122.72 L301.04,123.54 L300.18,124.35" fill="none" stroke="#9c9c9c" stroke-width="0.3"/>
<path d="M378.3,30.0 Q363.9,36.0 348.6,32.6 M379.5,32.5 Q364.4,38.5 348.6,34.7 M381.6,37.0 Q365.4,43.4 348.5,39.2 M382.6,38.9 Q366.0,45.8 348.4,41.8 M384.7,42.7 Q367.2,50.9 348.2,47.5 M385.7,44.6 Q367.8,53.4 348.1,50.2 M388.0,48.8 Q368.9,58.6 347.7,55.6 M389.1,51.0 Q369.4,61.3 347.3,58.2 M391.5,55.5 Q370.0,66.5 346.2,63.0 M392.7,57.8 Q370.3,69.1 345.6,65.2 M395.7,63.4 Q370.9,74.7 344.1,69.4 M397.3,66.3 Q371.1,77.4 343.4,71.2 M400.4,72.3 Q371.6,82.8 341.9,74.7 M402.0,75.1 Q371.7,85.5 341.0,76.5 M400.9,80.4 Q370.0,90.1 339.2,80.0 M399.3,82.9 Q368.7,92.0 338.4,81.6 M393.4,87.5 Q364.6,94.8 336.9,84.0 M390.3,89.4 Q362.6,95.7 336.3,84.8 M383.6,93.4 Q358.2,97.8 335.0,86.6 M380.7,95.3 Q356.3,98.7 334.4,87.4 M374.0,99.4 Q351.8,100.9 332.8,89.2 M371.6,100.9 Q350.1,101.7 332.2,90.0 M367.3,103.6 Q347.1,103.3 330.9,91.4 M365.4,104.8 Q345.8,104.1 330.3,92.1 M361.8,107.1 Q343.3,105.5 329.1,93.5 M359.3,108.6 Q341.5,106.5 328.3,94.4 M355.7,111.0 Q339.0,107.9 327.1,95.8 M353.9,112.1 Q337.7,108.7 326.4,96.5 M350.7,114.2 Q335.2,110.2 325.0,98.0 M348.7,115.4 Q333.7,111.2 323.9,99.0 M345.6,117.4 Q331.1,112.9 321.8,100.9 M344.3,118.2 Q330.0,113.7 320.9,101.7 M341.3,120.0 Q327.4,115.4 318.8,103.6 M339.6,121.0 Q326.0,116.4 317.7,104.8 M336.7,122.7 Q323.6,118.2 315.7,106.9 M335.0,123.7 Q322.2,119.1 314.5,108.0 M332.0,125.4 Q319.7,120.8 312.5,109.9 M330.3,126.4 Q318.3,121.7 311.3,110.9 M327.4,128.0 Q315.9,123.3 309.3,112.7 M325.9,128.8 Q314.6,124.1 308.2,113.8 M323.1,130.4 Q312.2,125.8 306.1,115.8 M321.2,131.5 Q310.7,126.9 304.8,117.0 M318.2,133.3 Q308.3,128.5 302.9,118.8 M316.8,134.3 Q307.1,129.3 302.2,119.6 M313.3,136.6 Q304.4,131.1 300.3,121.5 M311.8,137.6 Q303.2,131.9 299.5,122.3" fill="none" stroke="#8a8a8a" stroke-width="0.35"/>
<path d="M377.0,27.0 Q363.3,33.0 348.7,30.0 M380.5,34.8 Q364.8,40.9 348.5,36.8 M383.7,40.8 Q366.6,48.4 348.3,44.6 M386.8,46.7 Q368.4,56.1 347.9,53.0 M390.2,53.1 Q369.7,63.8 346.8,60.5 M394.2,60.6 Q370.6,71.9 344.9,67.4 M398.8,69.2 Q371.4,80.1 342.7,72.9 M402.3,77.8 Q371.3,88.0 340.1,78.3 M397.0,85.2 Q366.9,93.5 337.6,82.9 M387.2,91.3 Q360.6,96.7 335.7,85.7 M377.6,97.1 Q354.2,99.7 333.7,88.1 M369.1,102.4 Q348.4,102.6 331.4,90.8 M363.6,105.9 Q344.5,104.8 329.7,92.8 M357.5,109.8 Q340.2,107.2 327.7,95.1 M352.2,113.2 Q336.4,109.4 325.7,97.3 M347.4,116.3 Q332.5,111.9 323.0,99.8 M342.6,119.3 Q328.5,114.7 319.7,102.8 M338.3,121.8 Q325.0,117.2 316.8,105.7 M333.7,124.4 Q321.2,119.8 313.6,108.8 M329.0,127.1 Q317.3,122.4 310.4,111.7 M324.4,129.6 Q313.4,125.0 307.1,114.8 M320.0,132.2 Q309.7,127.6 304.0,117.8 M314.8,135.6 Q305.6,130.3 301.1,120.7" fill="none" stroke="#4a4a4a" stroke-width="0.5"/>
<polygon points="492.00,29.50 490.78,30.22 489.56,30.94 488.34,31.66 487.12,32.38 485.90,33.10 484.68,33.82 483.47,34.53 482.27,35.24 481.08,35.95 479.90,36.65 478.73,37.35 477.57,38.04 476.41,38.73 475.26,39.42 474.11,40.11 472.96,40.81 471.81,41.50 470.66,42.20 469.50,42.91 468.34,43.63 467.18,44.35 466.03,45.07 464.87,45.79 463.71,46.52 462.55,47.24 461.39,47.95 460.24,48.66 459.08,49.36 457.91,50.06 456.75,50.76 455.58,51.45 454.41,52.14 453.25,52.83 452.10,53.50 450.95,54.17 449.81,54.82 448.68,55.46 447.56,56.09 446.45,56.70 445.34,57.30 444.24,57.90 443.15,58.49 442.05,59.08 440.96,59.68 439.87,60.29 438.78,60.91 437.69,61.53 436.61,62.15 435.53,62.78 434.45,63.41 433.37,64.04 432.29,64.67 431.22,65.31 430.14,65.94 429.06,66.58 427.94,67.24 426.80,67.93 425.65,68.61 424.52,69.29 423.41,69.96 422.34,70.60 421.34,71.20 420.41,71.76 419.57,72.25 418.80,72.70 418.09,73.10 417.43,73.47 416.82,73.82 416.25,74.14 415.72,74.44 415.22,74.74 414.75,75.04 414.30,75.33 413.90,75.61 413.55,75.87 413.24,76.11 412.95,76.34 412.69,76.58 412.44,76.81 412.20,77.06 411.96,77.33 411.70,77.61 411.44,77.92 411.19,78.24 410.94,78.57 410.70,78.91 410.47,79.25 410.26,79.59 410.07,79.93 409.90,80.27 409.76,80.61 409.63,80.94 409.53,81.27 409.44,81.60 409.37,81.93 409.32,82.26 409.29,82.59 409.28,82.92 409.28,83.25 409.31,83.58 409.35,83.91 409.40,84.24 409.48,84.58 409.57,84.91 409.68,85.24 409.81,85.57 409.97,85.90 410.14,86.23 410.34,86.56 410.57,86.86 410.82,87.13 411.11,87.39 411.41,87.65 411.73,87.93 412.05,88.25 412.38,88.61 412.71,89.05 413.04,89.56 413.36,90.18 413.69,90.88 414.03,91.66 414.37,92.48 414.71,93.32 415.06,94.17 415.41,95.00 415.76,95.80 416.12,96.53 416.46,97.19 416.81,97.80 417.15,98.38 417.49,98.93 417.84,99.50 418.20,100.08 418.58,100.71 418.97,101.40 419.39,102.18 419.83,103.04 420.28,103.96 420.75,104.93 421.24,105.94 421.73,106.99 422.25,108.07 422.77,109.17 423.30,110.28 423.85,111.40 424.41,112.55 425.00,113.78 425.61,115.05 426.23,116.34 426.86,117.63 427.49,118.90 428.11,120.13 428.72,121.28 429.31,122.34 429.86,123.27 430.36,124.05 430.83,124.72 431.30,125.34 431.76,125.94 432.26,126.58 432.81,127.30 433.42,128.13 434.13,129.14 434.93,130.34 435.81,131.66 436.77,133.10 437.78,134.63 438.83,136.24 439.91,137.90 441.00,139.59 442.10,141.30 443.18,143.00 444.26,144.70 445.35,146.46 446.47,148.26 447.60,150.09 448.73,151.95 449.87,153.81 450.99,155.67 452.11,157.52 453.21,159.35 454.28,161.14 455.33,162.91 456.37,164.66 457.39,166.41 458.41,168.16 459.43,169.91 460.45,171.66 461.49,173.43 462.54,175.22 463.61,177.03 464.69,178.86 465.79,180.70 466.89,182.55 468.00,184.41 469.11,186.28 470.23,188.15 471.34,190.01 472.45,191.87 485.00,186.30 484.40,184.90 483.81,183.51 483.22,182.13 482.63,180.75 482.04,179.36 481.43,177.96 480.82,176.53 480.19,175.09 479.55,173.60 478.87,172.07 478.18,170.50 477.47,168.88 476.75,167.25 476.02,165.61 475.29,163.97 474.55,162.35 473.82,160.76 473.10,159.21 472.37,157.70 471.62,156.20 470.86,154.72 470.10,153.25 469.34,151.81 468.60,150.39 467.90,148.99 467.23,147.62 466.62,146.27 466.05,144.95 465.52,143.65 465.02,142.36 464.55,141.10 464.11,139.87 463.71,138.67 463.33,137.50 462.99,136.37 462.68,135.29 462.41,134.25 462.19,133.27 462.01,132.34 461.87,131.45 461.75,130.59 461.65,129.75 461.55,128.92 461.45,128.10 461.34,127.28 461.22,126.45 461.09,125.62 460.97,124.78 460.85,123.96 460.73,123.15 460.62,122.37 460.51,121.62 460.42,120.91 460.33,120.25 460.26,119.65 460.19,119.11 460.14,118.61 460.09,118.15 460.05,117.73 460.01,117.32 459.98,116.94 459.95,116.56 459.92,116.18 459.88,115.80 459.85,115.44 459.82,115.09 459.80,114.76 459.78,114.44 459.75,114.13 459.74,113.81 459.72,113.50 459.71,113.18 459.70,112.85 459.69,112.52 459.69,112.19 459.69,111.86 459.69,111.53 459.69,111.20 459.69,110.86 459.70,110.53 459.70,110.20 459.70,109.87 459.70,109.55 459.69,109.24 459.69,108.92 459.68,108.61 459.68,108.29 459.68,107.96 459.68,107.62 459.69,107.26 459.71,106.88 459.73,106.47 459.75,106.04 459.78,105.59 459.81,105.13 459.85,104.67 459.88,104.21 459.93,103.76 459.97,103.32 460.01,102.90 460.06,102.49 460.10,102.10 460.15,101.71 460.20,101.33 460.26,100.95 460.32,100.57 460.38,100.19 460.44,99.81 460.51,99.43 460.59,99.04 460.67,98.65 460.75,98.25 460.84,97.86 460.93,97.47 461.02,97.08 461.12,96.70 461.21,96.32 461.31,95.96 461.41,95.61 461.52,95.27 461.62,94.93 461.73,94.61 461.84,94.28 461.95,93.96 462.07,93.64 462.19,93.31 462.31,92.98 462.43,92.65 462.55,92.32 462.68,91.99 462.81,91.66 462.94,91.33 463.07,91.00 463.21,90.67 463.35,90.34 463.50,90.01 463.65,89.68 463.81,89.36 463.97,89.03 464.14,88.71 464.31,88.39 464.48,88.06 464.65,87.73 464.82,87.38 464.98,87.03 465.14,86.68 465.29,86.35 465.43,86.02 465.57,85.68 465.71,85.34 465.87,84.96 466.04,84.55 466.24,84.10 466.46,83.59 466.72,83.02 466.99,82.41 467.28,81.77 467.59,81.09 467.91,80.37 468.26,79.62 468.62,78.84 469.01,78.03 469.41,77.19 469.82,76.33 470.22,75.44 470.62,74.53 471.04,73.58 471.48,72.61 471.97,71.60 472.51,70.55 473.11,69.47 473.78,68.34 474.54,67.16 475.37,65.90 476.26,64.58 477.21,63.21 478.20,61.83 479.25,60.43 480.33,59.06 481.44,57.72 482.58,56.45 483.75,55.24 484.97,54.10 486.24,53.01 487.55,51.94 488.89,50.89 490.25,49.84 491.63,48.77 493.02,47.67 494.40,46.52 495.79,45.30 497.19,44.04 498.61,42.75 500.04,41.42 501.49,40.08 502.94,38.72 504.39,37.36 505.84,36.01 507.28,34.66" fill="url(#gR)"/>
<path d="M493.60,29.95 L491.74,31.12 L489.87,32.30 L488.01,33.47 L486.15,34.64 L484.30,35.80 L482.48,36.95 L480.68,38.07 L478.91,39.17 L477.14,40.26 L475.39,41.35 L473.65,42.45 L471.91,43.57 L470.17,44.72 L468.44,45.89 L466.72,47.07 L465.01,48.26 L463.31,49.42 L461.63,50.57 L459.96,51.68 L458.30,52.79 L456.65,53.88 L455.01,54.95 L453.39,56.00 L451.79,57.02 L450.21,58.00 L448.65,58.95 L447.11,59.88 L445.58,60.78 L444.06,61.69 L442.54,62.59 L441.04,63.51 L439.54,64.41 L438.06,65.32 L436.58,66.22 L435.11,67.13 L433.63,68.03 L432.13,68.96 L430.58,69.92 L429.01,70.90 L427.47,71.85 L426.03,72.75 L424.73,73.56 L423.59,74.27 L422.59,74.88 L421.70,75.42 L420.90,75.90 L420.18,76.36 L419.51,76.81 L418.90,77.26 L418.39,77.66 L417.97,78.03 L417.59,78.40 L417.24,78.77 L416.90,79.17 L416.53,79.62 L416.17,80.10 L415.83,80.61 L415.50,81.13 L415.21,81.65 L414.97,82.17 L414.77,82.68 L414.61,83.18 L414.49,83.68 L414.41,84.19 L414.37,84.69 L414.36,85.20 L414.39,85.70 L414.45,86.22 L414.55,86.73 L414.69,87.25 L414.87,87.76 L415.10,88.27 L415.37,88.77 L415.71,89.20 L416.10,89.60 L416.52,90.02 L416.97,90.51 L417.41,91.11 L417.85,91.89 L418.29,92.87 L418.75,93.98 L419.21,95.16 L419.68,96.35 L420.16,97.49 L420.63,98.50 L421.10,99.39 L421.56,100.20 L422.04,101.01 L422.53,101.86 L423.06,102.83 L423.64,103.96 L424.25,105.24 L424.89,106.62 L425.57,108.08 L426.27,109.61 L427.00,111.19 L427.75,112.79 L428.55,114.52 L429.39,116.36 L430.25,118.23 L431.12,120.05 L431.96,121.76 L432.77,123.27 L433.48,124.49 L434.12,125.51 L434.77,126.45 L435.48,127.47 L436.31,128.70 L437.33,130.28 L438.55,132.19 L439.91,134.34 L441.38,136.66 L442.91,139.10 L444.47,141.60 L446.01,144.09 L447.57,146.64 L449.19,149.29 L450.83,152.01 L452.47,154.74 L454.10,157.47 L455.68,160.14 L457.22,162.77 L458.72,165.38 L460.21,167.99 L461.69,170.60 L463.19,173.22 L464.72,175.87 L466.28,178.55 L467.85,181.26 L469.43,183.98 L471.02,186.70 L472.62,189.43 L474.20,192.15 M495.20,30.40 L493.31,31.66 L491.41,32.93 L489.51,34.21 L487.61,35.47 L485.74,36.72 L483.88,37.94 L482.05,39.14 L480.24,40.30 L478.45,41.44 L476.67,42.59 L474.90,43.74 L473.16,44.93 L471.42,46.16 L469.70,47.43 L468.00,48.71 L466.31,49.99 L464.65,51.26 L463.02,52.48 L461.42,53.66 L459.84,54.82 L458.29,55.96 L456.77,57.07 L455.26,58.16 L453.77,59.21 L452.30,60.23 L450.85,61.21 L449.42,62.15 L448.00,63.08 L446.60,63.99 L445.21,64.89 L443.84,65.79 L442.48,66.68 L441.13,67.54 L439.79,68.40 L438.46,69.26 L437.13,70.12 L435.76,71.00 L434.35,71.92 L432.93,72.84 L431.54,73.74 L430.23,74.60 L429.04,75.37 L428.01,76.05 L427.10,76.65 L426.28,77.18 L425.55,77.67 L424.89,78.14 L424.27,78.59 L423.71,79.04 L423.24,79.45 L422.84,79.84 L422.49,80.21 L422.16,80.60 L421.84,81.02 L421.50,81.48 L421.16,81.97 L420.84,82.48 L420.53,83.01 L420.26,83.54 L420.03,84.07 L419.84,84.58 L419.69,85.09 L419.58,85.60 L419.50,86.11 L419.45,86.62 L419.43,87.14 L419.45,87.66 L419.50,88.19 L419.59,88.73 L419.70,89.26 L419.86,89.79 L420.06,90.32 L420.30,90.82 L420.59,91.27 L420.94,91.68 L421.32,92.10 L421.71,92.59 L422.11,93.18 L422.50,93.93 L422.89,94.85 L423.30,95.89 L423.71,97.00 L424.13,98.11 L424.55,99.18 L424.97,100.13 L425.39,100.97 L425.81,101.75 L426.23,102.52 L426.68,103.33 L427.15,104.25 L427.67,105.32 L428.22,106.51 L428.80,107.81 L429.40,109.18 L430.03,110.61 L430.69,112.10 L431.37,113.62 L432.10,115.27 L432.86,117.03 L433.65,118.82 L434.43,120.58 L435.21,122.23 L435.94,123.72 L436.59,124.94 L437.18,125.98 L437.77,126.96 L438.42,128.01 L439.20,129.26 L440.15,130.83 L441.28,132.72 L442.55,134.82 L443.93,137.09 L445.37,139.46 L446.84,141.90 L448.30,144.33 L449.79,146.83 L451.35,149.42 L452.93,152.06 L454.52,154.74 L456.09,157.41 L457.62,160.04 L459.10,162.64 L460.56,165.23 L462.01,167.81 L463.45,170.41 L464.90,173.01 L466.37,175.62 L467.86,178.25 L469.36,180.89 L470.87,183.54 L472.38,186.20 L473.89,188.85 L475.40,191.50 M496.80,30.85 L494.87,32.21 L492.94,33.57 L491.00,34.94 L489.08,36.30 L487.17,37.63 L485.28,38.94 L483.43,40.20 L481.58,41.42 L479.75,42.62 L477.95,43.82 L476.16,45.04 L474.41,46.29 L472.68,47.61 L470.96,48.97 L469.27,50.35 L467.62,51.73 L465.99,53.09 L464.41,54.39 L462.88,55.63 L461.39,56.85 L459.94,58.04 L458.52,59.20 L457.13,60.32 L455.75,61.41 L454.39,62.45 L453.05,63.46 L451.73,64.43 L450.43,65.37 L449.15,66.29 L447.89,67.20 L446.64,68.08 L445.41,68.94 L444.20,69.77 L443.01,70.58 L441.81,71.40 L440.62,72.22 L439.40,73.05 L438.13,73.92 L436.85,74.78 L435.60,75.63 L434.43,76.44 L433.36,77.18 L432.43,77.84 L431.60,78.42 L430.86,78.95 L430.20,79.44 L429.59,79.91 L429.03,80.37 L428.52,80.83 L428.09,81.25 L427.72,81.64 L427.39,82.03 L427.08,82.43 L426.78,82.86 L426.46,83.33 L426.15,83.83 L425.85,84.36 L425.57,84.89 L425.31,85.43 L425.10,85.96 L424.92,86.48 L424.77,87.00 L424.66,87.52 L424.58,88.04 L424.53,88.56 L424.51,89.08 L424.52,89.62 L424.55,90.17 L424.62,90.72 L424.72,91.27 L424.85,91.82 L425.01,92.36 L425.22,92.88 L425.48,93.33 L425.78,93.75 L426.11,94.18 L426.46,94.67 L426.81,95.25 L427.15,95.96 L427.49,96.83 L427.84,97.80 L428.20,98.83 L428.57,99.87 L428.94,100.86 L429.32,101.76 L429.68,102.56 L430.05,103.30 L430.43,104.03 L430.82,104.80 L431.24,105.67 L431.70,106.68 L432.19,107.79 L432.70,109.00 L433.23,110.27 L433.80,111.61 L434.38,113.01 L434.99,114.45 L435.64,116.02 L436.33,117.69 L437.04,119.41 L437.75,121.10 L438.45,122.71 L439.12,124.16 L439.70,125.39 L440.24,126.45 L440.78,127.46 L441.37,128.55 L442.08,129.82 L442.96,131.39 L444.02,133.24 L445.20,135.30 L446.48,137.51 L447.83,139.83 L449.21,142.20 L450.59,144.57 L452.02,147.01 L453.50,149.54 L455.03,152.12 L456.56,154.74 L458.08,157.35 L459.55,159.93 L460.99,162.50 L462.40,165.07 L463.80,167.64 L465.20,170.22 L466.60,172.79 L468.01,175.37 L469.44,177.94 L470.87,180.52 L472.30,183.11 L473.73,185.69 L475.17,188.27 L476.60,190.85 M498.40,31.30 L496.44,32.75 L494.47,34.21 L492.50,35.67 L490.54,37.12 L488.60,38.55 L486.69,39.94 L484.80,41.27 L482.92,42.55 L481.06,43.80 L479.22,45.06 L477.42,46.33 L475.66,47.66 L473.93,49.05 L472.22,50.51 L470.55,51.99 L468.92,53.47 L467.33,54.92 L465.80,56.30 L464.34,57.61 L462.94,58.88 L461.59,60.12 L460.28,61.32 L459.00,62.48 L457.73,63.60 L456.47,64.68 L455.25,65.71 L454.04,66.71 L452.86,67.67 L451.70,68.60 L450.56,69.50 L449.44,70.37 L448.35,71.20 L447.28,71.99 L446.22,72.77 L445.17,73.53 L444.11,74.31 L443.03,75.10 L441.90,75.91 L440.77,76.73 L439.67,77.53 L438.62,78.29 L437.68,78.99 L436.85,79.62 L436.11,80.20 L435.45,80.72 L434.85,81.21 L434.30,81.68 L433.80,82.15 L433.33,82.61 L432.93,83.04 L432.59,83.45 L432.28,83.85 L432.00,84.27 L431.72,84.71 L431.43,85.19 L431.14,85.70 L430.86,86.23 L430.60,86.77 L430.36,87.32 L430.16,87.86 L429.99,88.39 L429.86,88.91 L429.75,89.44 L429.67,89.96 L429.61,90.49 L429.58,91.03 L429.58,91.58 L429.60,92.14 L429.65,92.71 L429.73,93.29 L429.83,93.85 L429.97,94.41 L430.14,94.93 L430.37,95.40 L430.62,95.83 L430.91,96.27 L431.21,96.75 L431.51,97.31 L431.80,98.00 L432.09,98.81 L432.39,99.72 L432.70,100.67 L433.02,101.63 L433.33,102.55 L433.66,103.39 L433.98,104.14 L434.29,104.84 L434.62,105.54 L434.96,106.27 L435.33,107.09 L435.73,108.03 L436.15,109.07 L436.60,110.19 L437.07,111.37 L437.56,112.61 L438.07,113.92 L438.61,115.28 L439.19,116.77 L439.80,118.36 L440.43,120.00 L441.07,121.63 L441.69,123.18 L442.29,124.61 L442.82,125.83 L443.30,126.92 L443.78,127.97 L444.32,129.09 L444.97,130.38 L445.78,131.95 L446.75,133.77 L447.84,135.78 L449.03,137.94 L450.28,140.19 L451.57,142.50 L452.88,144.82 L454.24,147.20 L455.66,149.66 L457.13,152.18 L458.60,154.73 L460.07,157.29 L461.49,159.83 L462.87,162.36 L464.24,164.91 L465.60,167.47 L466.95,170.03 L468.31,172.58 L469.66,175.12 L471.02,177.64 L472.38,180.16 L473.73,182.67 L475.09,185.18 L476.44,187.69 L477.80,190.20 M500.00,31.75 L498.01,33.29 L496.00,34.85 L494.00,36.41 L492.00,37.95 L490.03,39.47 L488.09,40.93 L486.17,42.34 L484.25,43.68 L482.36,44.99 L480.50,46.29 L478.68,47.63 L476.91,49.02 L475.18,50.50 L473.48,52.05 L471.83,53.63 L470.22,55.21 L468.67,56.75 L467.20,58.21 L465.80,59.59 L464.49,60.92 L463.24,62.20 L462.04,63.44 L460.87,64.64 L459.71,65.79 L458.56,66.90 L457.44,67.97 L456.35,68.98 L455.29,69.96 L454.25,70.90 L453.23,71.80 L452.24,72.66 L451.28,73.46 L450.35,74.22 L449.43,74.95 L448.52,75.67 L447.60,76.40 L446.66,77.15 L445.68,77.91 L444.69,78.67 L443.73,79.42 L442.82,80.13 L441.99,80.80 L441.26,81.41 L440.61,81.97 L440.03,82.49 L439.50,82.98 L439.01,83.46 L438.56,83.93 L438.14,84.39 L437.78,84.83 L437.47,85.25 L437.18,85.67 L436.92,86.10 L436.66,86.55 L436.39,87.04 L436.13,87.56 L435.87,88.10 L435.63,88.65 L435.41,89.20 L435.23,89.75 L435.07,90.29 L434.94,90.82 L434.83,91.36 L434.75,91.89 L434.69,92.43 L434.66,92.97 L434.65,93.53 L434.65,94.11 L434.68,94.70 L434.74,95.30 L434.82,95.88 L434.93,96.45 L435.07,96.99 L435.25,97.46 L435.47,97.91 L435.70,98.35 L435.95,98.83 L436.21,99.38 L436.45,100.03 L436.69,100.79 L436.94,101.63 L437.20,102.51 L437.46,103.39 L437.73,104.24 L438.00,105.03 L438.27,105.73 L438.54,106.39 L438.81,107.05 L439.11,107.74 L439.42,108.51 L439.76,109.39 L440.12,110.35 L440.50,111.38 L440.90,112.46 L441.32,113.61 L441.76,114.83 L442.23,116.11 L442.73,117.52 L443.27,119.03 L443.82,120.59 L444.38,122.15 L444.94,123.66 L445.47,125.05 L445.93,126.28 L446.36,127.39 L446.78,128.48 L447.27,129.63 L447.86,130.95 L448.60,132.50 L449.49,134.30 L450.49,136.26 L451.58,138.36 L452.74,140.55 L453.94,142.80 L455.17,145.06 L456.46,147.38 L457.82,149.78 L459.22,152.24 L460.65,154.73 L462.05,157.23 L463.42,159.73 L464.76,162.23 L466.08,164.76 L467.40,167.30 L468.71,169.84 L470.01,172.36 L471.31,174.86 L472.60,177.34 L473.89,179.79 L475.17,182.23 L476.44,184.67 L477.72,187.11 L479.00,189.55 M501.60,32.20 L499.57,33.84 L497.53,35.49 L495.50,37.14 L493.47,38.78 L491.46,40.38 L489.49,41.93 L487.54,43.40 L485.59,44.80 L483.67,46.17 L481.78,47.53 L479.94,48.92 L478.16,50.38 L476.43,51.94 L474.74,53.59 L473.10,55.27 L471.52,56.95 L470.01,58.58 L468.59,60.12 L467.26,61.56 L466.04,62.95 L464.89,64.28 L463.80,65.57 L462.74,66.80 L461.69,67.99 L460.65,69.13 L459.64,70.22 L458.67,71.26 L457.72,72.26 L456.80,73.20 L455.90,74.10 L455.04,74.95 L454.21,75.72 L453.42,76.44 L452.65,77.13 L451.87,77.81 L451.10,78.49 L450.29,79.19 L449.46,79.91 L448.62,80.61 L447.80,81.31 L447.02,81.98 L446.31,82.61 L445.68,83.20 L445.12,83.74 L444.61,84.26 L444.15,84.75 L443.72,85.23 L443.32,85.71 L442.95,86.18 L442.63,86.63 L442.34,87.06 L442.08,87.49 L441.84,87.93 L441.60,88.40 L441.36,88.90 L441.11,89.43 L440.88,89.97 L440.66,90.53 L440.47,91.09 L440.29,91.65 L440.14,92.20 L440.02,92.74 L439.92,93.27 L439.84,93.81 L439.78,94.36 L439.73,94.92 L439.71,95.49 L439.70,96.09 L439.72,96.70 L439.75,97.31 L439.81,97.91 L439.89,98.50 L439.99,99.04 L440.14,99.53 L440.31,99.98 L440.50,100.43 L440.70,100.91 L440.90,101.45 L441.10,102.07 L441.29,102.77 L441.49,103.54 L441.70,104.34 L441.91,105.15 L442.12,105.93 L442.34,106.66 L442.56,107.32 L442.78,107.94 L443.01,108.56 L443.25,109.21 L443.51,109.93 L443.79,110.75 L444.09,111.63 L444.40,112.57 L444.73,113.56 L445.08,114.61 L445.46,115.74 L445.85,116.94 L446.28,118.27 L446.74,119.70 L447.22,121.18 L447.70,122.68 L448.18,124.13 L448.64,125.50 L449.05,126.72 L449.41,127.86 L449.79,128.99 L450.22,130.18 L450.74,131.51 L451.41,133.06 L452.22,134.82 L453.13,136.74 L454.13,138.78 L455.19,140.91 L456.31,143.10 L457.46,145.30 L458.68,147.56 L459.98,149.90 L461.32,152.30 L462.69,154.73 L464.04,157.18 L465.36,159.62 L466.64,162.09 L467.92,164.60 L469.20,167.12 L470.46,169.65 L471.71,172.15 L472.96,174.61 L474.18,177.03 L475.40,179.42 L476.60,181.80 L477.80,184.16 L479.00,186.53 L480.20,188.90 M503.20,32.65 L501.14,34.38 L499.07,36.13 L496.99,37.88 L494.93,39.61 L492.89,41.30 L490.89,42.93 L488.91,44.47 L486.93,45.93 L484.97,47.35 L483.06,48.76 L481.20,50.22 L479.41,51.75 L477.68,53.39 L476.00,55.13 L474.38,56.91 L472.82,58.69 L471.35,60.41 L469.98,62.03 L468.72,63.54 L467.59,64.98 L466.54,66.36 L465.55,67.69 L464.61,68.96 L463.67,70.18 L462.74,71.35 L461.84,72.47 L460.98,73.54 L460.15,74.55 L459.34,75.51 L458.57,76.40 L457.84,77.23 L457.15,77.98 L456.49,78.66 L455.86,79.31 L455.23,79.94 L454.59,80.58 L453.92,81.24 L453.23,81.90 L452.54,82.56 L451.86,83.20 L451.21,83.82 L450.62,84.42 L450.10,84.98 L449.62,85.52 L449.19,86.03 L448.79,86.52 L448.43,87.00 L448.08,87.48 L447.76,87.96 L447.47,88.42 L447.21,88.87 L446.98,89.31 L446.76,89.77 L446.54,90.25 L446.32,90.76 L446.10,91.29 L445.89,91.85 L445.70,92.41 L445.52,92.98 L445.36,93.55 L445.22,94.10 L445.10,94.65 L445.00,95.19 L444.92,95.74 L444.86,96.29 L444.81,96.86 L444.77,97.45 L444.75,98.06 L444.75,98.69 L444.76,99.32 L444.79,99.95 L444.84,100.54 L444.92,101.09 L445.02,101.59 L445.15,102.06 L445.30,102.52 L445.45,102.99 L445.60,103.51 L445.75,104.10 L445.89,104.75 L446.04,105.46 L446.19,106.18 L446.35,106.91 L446.51,107.62 L446.68,108.29 L446.85,108.90 L447.02,109.49 L447.20,110.07 L447.39,110.68 L447.60,111.35 L447.82,112.11 L448.06,112.91 L448.31,113.76 L448.57,114.65 L448.85,115.61 L449.15,116.64 L449.47,117.77 L449.83,119.01 L450.21,120.37 L450.61,121.78 L451.02,123.20 L451.42,124.61 L451.82,125.94 L452.16,127.17 L452.47,128.33 L452.79,129.49 L453.16,130.72 L453.63,132.07 L454.23,133.62 L454.95,135.35 L455.78,137.22 L456.68,139.21 L457.65,141.28 L458.68,143.40 L459.75,145.54 L460.90,147.75 L462.13,150.02 L463.42,152.35 L464.73,154.72 L466.03,157.12 L467.29,159.52 L468.53,161.96 L469.76,164.44 L470.99,166.95 L472.21,169.46 L473.42,171.93 L474.60,174.36 L475.77,176.73 L476.91,179.06 L478.03,181.36 L479.15,183.65 L480.27,185.95 L481.40,188.25 M504.80,33.10 L502.71,34.92 L500.60,36.77 L498.49,38.61 L496.40,40.43 L494.33,42.21 L492.29,43.92 L490.28,45.54 L488.27,47.06 L486.28,48.53 L484.33,50.00 L482.45,51.51 L480.66,53.11 L478.94,54.83 L477.26,56.66 L475.65,58.55 L474.12,60.42 L472.69,62.24 L471.37,63.94 L470.19,65.51 L469.13,67.01 L468.19,68.45 L467.31,69.81 L466.48,71.12 L465.65,72.38 L464.83,73.58 L464.04,74.73 L463.29,75.82 L462.57,76.84 L461.89,77.81 L461.24,78.71 L460.64,79.52 L460.08,80.24 L459.57,80.89 L459.07,81.49 L458.58,82.08 L458.08,82.67 L457.55,83.29 L457.01,83.90 L456.46,84.50 L455.92,85.09 L455.41,85.67 L454.94,86.23 L454.52,86.77 L454.13,87.29 L453.77,87.79 L453.44,88.29 L453.13,88.78 L452.84,89.26 L452.57,89.75 L452.32,90.21 L452.09,90.67 L451.88,91.13 L451.68,91.60 L451.48,92.09 L451.28,92.61 L451.09,93.16 L450.90,93.72 L450.73,94.29 L450.57,94.87 L450.42,95.44 L450.29,96.01 L450.18,96.56 L450.09,97.11 L450.01,97.67 L449.94,98.23 L449.88,98.80 L449.84,99.40 L449.80,100.03 L449.78,100.68 L449.77,101.34 L449.78,101.98 L449.80,102.59 L449.84,103.15 L449.91,103.66 L449.99,104.14 L450.09,104.60 L450.20,105.07 L450.30,105.58 L450.40,106.13 L450.49,106.74 L450.59,107.37 L450.69,108.02 L450.80,108.67 L450.91,109.31 L451.02,109.92 L451.14,110.49 L451.27,111.03 L451.40,111.58 L451.54,112.15 L451.69,112.77 L451.85,113.47 L452.03,114.19 L452.21,114.95 L452.40,115.75 L452.61,116.61 L452.84,117.55 L453.09,118.60 L453.37,119.76 L453.68,121.03 L454.00,122.37 L454.33,123.73 L454.67,125.08 L454.99,126.39 L455.27,127.62 L455.53,128.80 L455.80,130.00 L456.11,131.26 L456.52,132.63 L457.05,134.17 L457.69,135.88 L458.42,137.70 L459.23,139.63 L460.11,141.64 L461.05,143.70 L462.04,145.79 L463.12,147.93 L464.29,150.14 L465.52,152.41 L466.77,154.72 L468.02,157.06 L469.23,159.41 L470.42,161.82 L471.61,164.28 L472.79,166.78 L473.97,169.26 L475.12,171.72 L476.25,174.11 L477.35,176.42 L478.42,178.69 L479.47,180.93 L480.51,183.14 L481.55,185.36 L482.60,187.60 M506.40,33.55 L504.27,35.46 L502.13,37.40 L499.99,39.34 L497.86,41.26 L495.76,43.13 L493.69,44.92 L491.65,46.60 L489.60,48.18 L487.58,49.71 L485.61,51.24 L483.71,52.81 L481.91,54.47 L480.19,56.28 L478.52,58.20 L476.93,60.19 L475.43,62.16 L474.03,64.07 L472.76,65.85 L471.65,67.49 L470.68,69.05 L469.84,70.53 L469.07,71.94 L468.35,73.28 L467.63,74.57 L466.92,75.80 L466.24,76.98 L465.60,78.09 L465.00,79.14 L464.44,80.11 L463.91,81.01 L463.44,81.81 L463.02,82.50 L462.64,83.11 L462.28,83.67 L461.94,84.21 L461.57,84.76 L461.19,85.34 L460.79,85.90 L460.38,86.44 L459.99,86.98 L459.61,87.51 L459.26,88.03 L458.93,88.55 L458.63,89.06 L458.35,89.56 L458.09,90.06 L457.84,90.55 L457.60,91.04 L457.38,91.53 L457.16,92.01 L456.96,92.48 L456.78,92.95 L456.60,93.43 L456.42,93.94 L456.25,94.47 L456.08,95.02 L455.92,95.59 L455.76,96.17 L455.62,96.76 L455.49,97.34 L455.37,97.91 L455.26,98.47 L455.17,99.03 L455.09,99.59 L455.02,100.16 L454.96,100.75 L454.90,101.36 L454.85,102.01 L454.81,102.68 L454.78,103.35 L454.76,104.01 L454.76,104.63 L454.77,105.20 L454.79,105.73 L454.84,106.21 L454.89,106.68 L454.94,107.15 L455.00,107.64 L455.05,108.17 L455.10,108.72 L455.14,109.28 L455.19,109.85 L455.24,110.43 L455.30,111.00 L455.36,111.55 L455.44,112.07 L455.51,112.58 L455.59,113.09 L455.68,113.62 L455.78,114.20 L455.88,114.82 L455.99,115.47 L456.11,116.14 L456.23,116.84 L456.37,117.61 L456.53,118.46 L456.71,119.42 L456.92,120.51 L457.15,121.70 L457.39,122.96 L457.65,124.26 L457.91,125.56 L458.17,126.84 L458.39,128.06 L458.59,129.27 L458.80,130.51 L459.06,131.80 L459.40,133.20 L459.86,134.73 L460.42,136.40 L461.06,138.18 L461.78,140.06 L462.56,142.00 L463.42,144.00 L464.33,146.03 L465.34,148.11 L466.45,150.26 L467.62,152.47 L468.82,154.72 L470.01,157.00 L471.16,159.31 L472.30,161.68 L473.45,164.13 L474.59,166.60 L475.72,169.07 L476.83,171.50 L477.90,173.85 L478.93,176.12 L479.93,178.32 L480.90,180.49 L481.86,182.64 L482.83,184.78 L483.80,186.95" fill="none" stroke="#9c9c9c" stroke-width="0.3"/>
<path d="M490.2,30.6 Q499.0,30.5 505.8,36.0 M488.3,31.7 Q497.2,32.1 503.7,38.0 M485.3,33.5 Q494.1,34.8 500.0,41.4 M483.5,34.5 Q492.3,36.4 497.9,43.4 M479.9,36.7 Q488.7,39.4 493.7,47.1 M478.1,37.7 Q486.9,40.8 491.6,48.8 M474.7,39.8 Q483.3,43.5 487.5,51.9 M473.0,40.8 Q481.6,44.9 485.6,53.5 M469.5,42.9 Q478.3,47.7 482.0,57.1 M467.8,44.0 Q476.8,49.3 480.3,59.1 M464.3,46.2 Q473.8,52.4 477.2,63.2 M462.6,47.2 Q472.4,53.9 475.8,65.2 M458.5,49.7 Q469.4,57.0 473.1,69.5 M456.7,50.8 Q468.1,58.1 472.2,71.1 M452.1,53.5 Q465.1,60.9 470.4,75.0 M449.2,55.1 Q463.3,62.5 469.4,77.2 M444.8,57.6 Q460.5,64.8 467.9,80.4 M442.1,59.1 Q458.7,66.1 467.1,82.1 M436.1,62.5 Q455.0,68.4 465.9,85.0 M432.8,64.4 Q453.0,69.3 465.4,86.0 M426.8,67.9 Q449.3,71.1 464.6,87.9 M423.4,70.0 Q447.1,72.1 464.1,88.9 M417.4,73.5 Q443.4,74.1 463.0,91.2 M415.0,74.9 Q441.9,75.2 462.4,92.7 M411.2,78.2 Q439.5,78.6 461.1,96.9 M409.9,80.3 Q438.6,80.6 460.5,99.2 M409.4,84.4 Q438.2,85.2 459.9,104.2 M410.2,86.4 Q438.7,87.7 459.7,106.9 M413.7,90.9 Q440.3,92.5 459.7,110.7 M415.1,94.2 Q440.6,95.1 459.7,112.0 M418.0,99.8 Q441.6,99.8 459.8,114.8 M419.6,102.6 Q442.2,102.1 459.9,116.2 M422.2,108.1 Q443.0,106.4 460.1,118.4 M423.3,110.3 Q443.4,108.2 460.2,119.4 M425.3,114.4 Q444.2,111.7 460.5,121.6 M426.2,116.3 Q444.6,113.3 460.7,122.8 M427.8,119.5 Q445.3,116.2 461.0,124.8 M428.7,121.3 Q445.8,117.8 461.2,126.0 M430.6,124.4 Q446.9,121.1 461.6,128.9 M431.5,125.6 Q447.5,122.7 461.7,130.6 M433.8,128.6 Q449.1,126.3 462.4,134.3 M434.5,129.7 Q449.6,127.4 462.7,135.3 M436.8,133.1 Q451.0,130.8 463.5,138.1 M437.8,134.6 Q451.7,132.2 463.9,139.3 M439.9,137.9 Q453.0,135.3 464.8,141.7 M441.0,139.6 Q453.8,136.9 465.3,143.0 M443.2,143.0 Q455.2,140.1 466.3,145.6 M444.3,144.7 Q456.0,141.7 466.9,146.9 M445.9,147.4 Q457.2,144.2 467.9,149.0 M447.0,149.2 Q458.0,145.9 468.6,150.4 M448.7,151.9 Q459.3,148.5 469.7,152.5 M449.9,153.8 Q460.2,150.2 470.5,154.0 M451.6,156.6 Q461.5,152.8 471.6,156.2 M452.7,158.4 Q462.4,154.5 472.4,157.7 M454.3,161.1 Q463.7,157.1 473.5,160.0 M455.3,162.9 Q464.5,158.8 474.2,161.5 M457.4,166.4 Q466.2,162.3 475.7,164.8 M457.9,167.3 Q466.7,163.2 476.0,165.6 M459.9,170.8 Q468.4,166.7 477.5,168.9 M460.5,171.7 Q468.8,167.6 477.8,169.7 M462.5,175.2 Q470.4,171.0 479.2,172.8 M463.1,176.1 Q470.9,171.9 479.5,173.6 M465.2,179.8 Q472.4,175.4 480.8,176.5 M465.8,180.7 Q472.8,176.2 481.1,177.2 M468.0,184.4 Q474.4,179.7 482.3,180.1 M469.1,186.3 Q475.1,181.4 482.9,181.4 M470.8,189.1 Q476.3,184.0 483.8,183.5 M471.9,190.9 Q477.1,185.7 484.4,184.9" fill="none" stroke="#8a8a8a" stroke-width="0.35"/>
<path d="M492.0,29.5 Q500.8,28.9 508.0,34.0 M486.5,32.7 Q495.3,33.7 501.5,40.1 M481.7,35.6 Q490.5,37.9 495.8,45.3 M476.4,38.7 Q485.1,42.2 489.6,50.4 M471.2,41.9 Q479.9,46.3 483.7,55.2 M466.0,45.1 Q475.3,50.8 478.7,61.1 M460.8,48.3 Q471.1,55.3 474.5,67.2 M454.4,52.1 Q466.6,59.6 471.3,73.1 M447.0,56.4 Q461.9,63.7 468.6,78.8 M439.3,60.6 Q457.0,67.2 466.5,83.6 M429.6,66.3 Q451.0,70.3 465.0,87.0 M420.4,71.8 Q445.2,73.0 463.6,89.8 M412.8,76.5 Q440.5,76.7 461.7,94.6 M409.3,82.3 Q438.2,82.7 460.2,101.5 M412.1,88.2 Q439.6,90.1 459.7,109.1 M416.5,97.2 Q441.0,97.5 459.7,113.3 M421.2,105.9 Q442.7,104.7 460.0,117.5 M424.1,112.0 Q443.7,109.6 460.3,120.3 M426.9,117.6 Q444.9,114.5 460.8,123.6 M429.6,122.8 Q446.3,119.3 461.3,127.3 M432.5,126.9 Q448.2,124.3 462.0,132.3 M435.8,131.7 Q450.4,129.4 463.2,136.9 M438.8,136.2 Q452.3,133.8 464.3,140.5 M442.1,141.3 Q454.5,138.5 465.8,144.3 M444.8,145.6 Q456.4,142.6 467.2,147.6 M448.2,151.0 Q458.9,147.6 469.3,151.8 M451.0,155.7 Q461.1,151.9 471.2,155.5 M453.7,160.2 Q463.2,156.2 473.1,159.2 M456.4,164.7 Q465.4,160.6 474.9,163.2 M458.9,169.0 Q467.5,164.9 476.8,167.3 M461.5,173.4 Q469.6,169.3 478.5,171.3 M464.2,177.9 Q471.7,173.6 480.2,175.1 M466.9,182.6 Q473.6,177.9 481.7,178.7 M469.7,187.2 Q475.5,182.2 483.2,182.1 M473.0,192.8 Q477.8,187.4 485.0,186.3" fill="none" stroke="#4a4a4a" stroke-width="0.5"/>
<path d="M374.60,99.00 L373.22,99.87 L371.84,100.73 L370.46,101.60 L369.08,102.47 L367.70,103.34 L366.32,104.20 L364.95,105.07 L363.58,105.93 L362.22,106.79 L360.84,107.67 L359.45,108.56 L358.06,109.45 L356.68,110.33 L355.33,111.19 L354.01,112.03 L352.74,112.84 L351.53,113.61 L350.38,114.34 L349.29,115.04 L348.23,115.71 L347.22,116.36 L346.22,116.99 L345.24,117.61 L344.26,118.22 L343.28,118.83 L342.30,119.43 L341.33,120.01 L340.37,120.58 L339.43,121.14 L338.49,121.69 L337.55,122.23 L336.62,122.77 L335.68,123.31 L334.73,123.86 L333.77,124.40 L332.80,124.95 L331.83,125.49 L330.87,126.03 L329.91,126.57 L328.96,127.10 L328.03,127.62 L327.13,128.13 L326.26,128.62 L325.43,129.08 L324.64,129.51 L323.85,129.94 L323.07,130.38 L322.27,130.84 L321.43,131.33 L320.54,131.87 L319.58,132.46 L318.57,133.11 L317.51,133.80 L316.42,134.53 L315.30,135.28 L314.16,136.04 L313.03,136.81 L311.91,137.56 L310.80,138.30" fill="none" stroke="#4e8e8c" stroke-width="0.6"/>
<path d="M423.90,111.50 L424.46,112.64 L425.03,113.80 L425.60,114.99 L426.17,116.18 L426.73,117.35 L427.30,118.51 L427.86,119.63 L428.41,120.70 L428.96,121.71 L429.49,122.65 L429.98,123.46 L430.44,124.16 L430.87,124.77 L431.30,125.34 L431.73,125.90 L432.18,126.48 L432.68,127.12 L433.23,127.86 L433.84,128.73 L434.54,129.76 L435.32,130.93 L436.17,132.20 L437.07,133.56 L438.01,134.99 L438.99,136.48 L439.98,138.01 L440.99,139.57 L442.00,141.15 L443.01,142.72 L443.99,144.28 L445.00,145.89 L446.02,147.54 L447.06,149.22 L448.10,150.92 L449.15,152.63 L450.19,154.35 L451.23,156.07 L452.26,157.77 L453.27,159.45 L454.26,161.10 L455.23,162.73 L456.18,164.35 L457.13,165.97 L458.07,167.58 L459.01,169.19 L459.95,170.81 L460.90,172.43 L461.86,174.07 L462.84,175.72 L463.83,177.40 L464.83,179.08 L465.84,180.78 L466.85,182.49 L467.88,184.21 L468.90,185.93 L469.93,187.65 L470.96,189.37 L471.98,191.09 L473.00,192.80" fill="none" stroke="#4e8e8c" stroke-width="0.6"/>
<path d="M377.00,27.00 L377.56,28.24 L378.13,29.52 L378.71,30.81 L379.29,32.09 L379.85,33.32 L380.38,34.48 L380.88,35.55 L381.34,36.48 L381.75,37.29 L382.13,38.01 L382.49,38.66 L382.83,39.26 L383.16,39.84 L383.49,40.42 L383.82,41.04 L384.16,41.67 L384.48,42.28 L384.81,42.88 L385.12,43.48 L385.44,44.07 L385.75,44.66 L386.07,45.26 L386.39,45.86 L386.71,46.45 L387.03,47.04 L387.34,47.64 L387.66,48.23 L387.98,48.84 L388.31,49.45 L388.64,50.08 L388.98,50.73 L389.32,51.39 L389.67,52.06 L390.02,52.73 L390.37,53.41 L390.72,54.09 L391.08,54.77 L391.43,55.44 L391.78,56.09 L392.13,56.74 L392.48,57.39 L392.84,58.04 L393.21,58.72 L393.58,59.41 L393.97,60.14 L394.38,60.90 L394.80,61.68 L395.23,62.49 L395.67,63.31 L396.11,64.13 L396.54,64.96 L396.98,65.77 L397.41,66.58 L397.86,67.41 L398.31,68.24 L398.76,69.07 L399.20,69.89 L399.62,70.69 L400.02,71.45 L400.39,72.18 L400.77,72.87 L401.14,73.54 L401.51,74.18 L401.84,74.80 L402.13,75.39 L402.35,75.96 L402.48,76.49 L402.52,76.98 L402.46,77.42 L402.33,77.83 L402.15,78.20 L401.92,78.57 L401.69,78.94 L401.45,79.32 L401.23,79.73 L401.02,80.16 L400.79,80.60 L400.55,81.04 L400.30,81.48 L400.03,81.91 L399.75,82.34 L399.45,82.74 L399.18,83.10 L398.97,83.39 L398.79,83.65 L398.57,83.92 L398.27,84.21 L397.84,84.58 L397.21,85.04 L396.34,85.64 L395.23,86.36 L393.91,87.19 L392.45,88.09 L390.88,89.04 L389.28,90.01 L387.68,90.98 L386.14,91.91 L384.65,92.83 L383.14,93.75 L381.62,94.68 L380.09,95.62 L378.55,96.56 L377.01,97.51 L375.47,98.46 L373.93,99.42 L372.38,100.39 L370.82,101.36 L369.26,102.35 L367.70,103.33 L366.14,104.31 L364.59,105.29 L363.05,106.27 L361.52,107.24 L360.00,108.21 L358.49,109.17 L356.98,110.13 L355.47,111.09 L353.96,112.06 L352.46,113.02" fill="none" stroke="#f01212" stroke-width="1.75"/>
<path d="M492.00,29.50 L490.34,30.48 L488.67,31.46 L487.00,32.45 L485.34,33.43 L483.68,34.41 L482.04,35.38 L480.42,36.35 L478.81,37.30 L477.23,38.25 L475.65,39.19 L474.08,40.13 L472.51,41.08 L470.94,42.03 L469.36,43.00 L467.78,43.98 L466.19,44.97 L464.61,45.95 L463.03,46.94 L461.45,47.92 L459.87,48.88 L458.28,49.84 L456.69,50.79 L455.09,51.74 L453.51,52.68 L451.93,53.60 L450.36,54.51 L448.82,55.39 L447.29,56.24 L445.77,57.07 L444.27,57.88 L442.77,58.69 L441.28,59.51 L439.79,60.34 L438.30,61.18 L436.82,62.03 L435.34,62.89 L433.86,63.75 L432.39,64.61 L430.92,65.48 L429.45,66.35 L427.94,67.25 L426.38,68.18 L424.82,69.11 L423.30,70.03 L421.87,70.89 L420.56,71.67 L419.41,72.34 L418.39,72.93 L417.47,73.45 L416.65,73.91 L415.90,74.34 L415.21,74.75 L414.57,75.15 L413.99,75.55 L413.51,75.90 L413.09,76.23 L412.73,76.54 L412.39,76.87 L412.06,77.21 L411.71,77.60 L411.36,78.02 L411.01,78.46 L410.68,78.92 L410.38,79.39 L410.11,79.86 L409.88,80.32 L409.69,80.78 L409.54,81.23 L409.42,81.68 L409.34,82.13 L409.29,82.58 L409.28,83.04 L409.30,83.49 L409.35,83.94 L409.43,84.39 L409.55,84.84 L409.70,85.29 L409.89,85.75 L410.12,86.20 L410.40,86.65 L410.73,87.04 L411.11,87.39 L411.52,87.76 L411.97,88.16 L412.42,88.66 L412.87,89.28 L413.31,90.07 L413.76,91.04 L414.22,92.12 L414.69,93.27 L415.17,94.42 L415.65,95.54 L416.13,96.55 L416.60,97.44 L417.07,98.24 L417.54,99.00 L418.02,99.78 L418.53,100.62 L419.07,101.57 L419.65,102.68 L420.26,103.92 L420.91,105.25 L421.58,106.66 L422.27,108.13 L422.99,109.63 L423.73,111.16 L424.50,112.74 L425.32,114.43 L426.16,116.19 L427.02,117.96 L427.87,119.67 L428.71,121.26 L429.51,122.69 L430.28,123.93 L431.02,125.03 L431.76,126.03 L432.48,126.98 L433.20,127.92 L433.93,128.89" fill="none" stroke="#f01212" stroke-width="1.75"/>
<path d="M292.8,30 L298.8,81 L312.6,90.7 L315.7,104.5 L310.6,138 L302,169.5 L422,212" fill="none" stroke="#000" stroke-width="1.9" stroke-dasharray="1.8 1.2"/>
<path d="M530,115 L526.1,120.3 L511.7,139.8 M504.2,150.5 L497.2,161.7 L474.5,171.2 L474.5,192.6 L478,215" fill="none" stroke="#000" stroke-width="1.9" stroke-dasharray="1.8 1.2"/>
</g>
<rect x="281.5" y="36.0" width="245.0" height="175.0" fill="none" stroke="#b4b4b4" stroke-width="1"/>
<path d="M281.50,211.0 v-2.5 M281.50,36.0 v2.5 M288.50,211.0 v-1.5 M288.50,36.0 v1.5 M295.50,211.0 v-1.5 M295.50,36.0 v1.5 M302.50,211.0 v-1.5 M302.50,36.0 v1.5 M309.50,211.0 v-1.5 M309.50,36.0 v1.5 M316.50,211.0 v-2.5 M316.50,36.0 v2.5 M323.50,211.0 v-1.5 M323.50,36.0 v1.5 M330.50,211.0 v-1.5 M330.50,36.0 v1.5 M337.50,211.0 v-1.5 M337.50,36.0 v1.5 M344.50,211.0 v-1.5 M344.50,36.0 v1.5 M351.50,211.0 v-2.5 M351.50,36.0 v2.5 M358.50,211.0 v-1.5 M358.50,36.0 v1.5 M365.50,211.0 v-1.5 M365.50,36.0 v1.5 M372.50,211.0 v-1.5 M372.50,36.0 v1.5 M379.50,211.0 v-1.5 M379.50,36.0 v1.5 M386.50,211.0 v-2.5 M386.50,36.0 v2.5 M393.50,211.0 v-1.5 M393.50,36.0 v1.5 M400.50,211.0 v-1.5 M400.50,36.0 v1.5 M407.50,211.0 v-1.5 M407.50,36.0 v1.5 M414.50,211.0 v-1.5 M414.50,36.0 v1.5 M421.50,211.0 v-2.5 M421.50,36.0 v2.5 M428.50,211.0 v-1.5 M428.50,36.0 v1.5 M435.50,211.0 v-1.5 M435.50,36.0 v1.5 M442.50,211.0 v-1.5 M442.50,36.0 v1.5 M449.50,211.0 v-1.5 M449.50,36.0 v1.5 M456.50,211.0 v-2.5 M456.50,36.0 v2.5 M463.50,211.0 v-1.5 M463.50,36.0 v1.5 M470.50,211.0 v-1.5 M470.50,36.0 v1.5 M477.50,211.0 v-1.5 M477.50,36.0 v1.5 M484.50,211.0 v-1.5 M484.50,36.0 v1.5 M491.50,211.0 v-2.5 M491.50,36.0 v2.5 M498.50,211.0 v-1.5 M498.50,36.0 v1.5 M505.50,211.0 v-1.5 M505.50,36.0 v1.5 M512.50,211.0 v-1.5 M512.50,36.0 v1.5 M519.50,211.0 v-1.5 M519.50,36.0 v1.5 M526.50,211.0 v-2.5 M526.50,36.0 v2.5 M281.5,36.00 h2.5 M526.5,36.00 h-2.5 M281.5,43.00 h1.5 M526.5,43.00 h-1.5 M281.5,50.00 h1.5 M526.5,50.00 h-1.5 M281.5,57.00 h1.5 M526.5,57.00 h-1.5 M281.5,64.00 h1.5 M526.5,64.00 h-1.5 M281.5,71.00 h2.5 M526.5,71.00 h-2.5 M281.5,78.00 h1.5 M526.5,78.00 h-1.5 M281.5,85.00 h1.5 M526.5,85.00 h-1.5 M281.5,92.00 h1.5 M526.5,92.00 h-1.5 M281.5,99.00 h1.5 M526.5,99.00 h-1.5 M281.5,106.00 h2.5 M526.5,106.00 h-2.5 M281.5,113.00 h1.5 M526.5,113.00 h-1.5 M281.5,120.00 h1.5 M526.5,120.00 h-1.5 M281.5,127.00 h1.5 M526.5,127.00 h-1.5 M281.5,134.00 h1.5 M526.5,134.00 h-1.5 M281.5,141.00 h2.5 M526.5,141.00 h-2.5 M281.5,148.00 h1.5 M526.5,148.00 h-1.5 M281.5,155.00 h1.5 M526.5,155.00 h-1.5 M281.5,162.00 h1.5 M526.5,162.00 h-1.5 M281.5,169.00 h1.5 M526.5,169.00 h-1.5 M281.5,176.00 h2.5 M526.5,176.00 h-2.5 M281.5,183.00 h1.5 M526.5,183.00 h-1.5 M281.5,190.00 h1.5 M526.5,190.00 h-1.5 M281.5,197.00 h1.5 M526.5,197.00 h-1.5 M281.5,204.00 h1.5 M526.5,204.00 h-1.5 M281.5,211.00 h2.5 M526.5,211.00 h-2.5" stroke="#555" stroke-width="0.8" fill="none"/>
<text x="276.6" y="41.0" font-size="12.4" text-anchor="end">-6</text>
<text x="276.6" y="76.0" font-size="12.4" text-anchor="end">-6.5</text>
<text x="276.6" y="111.0" font-size="12.4" text-anchor="end">-7</text>
<text x="276.6" y="146.0" font-size="12.4" text-anchor="end">-7.5</text>
<text x="276.6" y="181.0" font-size="12.4" text-anchor="end">-8</text>
<text x="276.6" y="216.0" font-size="12.4" text-anchor="end">-8.5</text>
<text x="281.5" y="228.2" font-size="12.4" text-anchor="middle">7.5</text>
<text x="316.5" y="228.2" font-size="12.4" text-anchor="middle">8</text>
<text x="351.5" y="228.2" font-size="12.4" text-anchor="middle">8.5</text>
<text x="386.5" y="228.2" font-size="12.4" text-anchor="middle">9</text>
<text x="421.5" y="228.2" font-size="12.4" text-anchor="middle">9.5</text>
<text x="456.5" y="228.2" font-size="12.4" text-anchor="middle">10</text>
<text x="491.5" y="228.2" font-size="12.4" text-anchor="middle">10.5</text>
<text x="526.5" y="228.2" font-size="12.4" text-anchor="middle">11</text>
<text y="29.8" font-size="16.3"><tspan x="238.0" letter-spacing="-0.5">TECXY</tspan><tspan x="294.8" letter-spacing="0.3">computing</tspan><tspan x="377.6">mesh -</tspan><tspan x="432.6" letter-spacing="0.14">divertor detail</tspan></text>
<text x="397" y="243.4" font-size="13.9">R<tspan font-size="11" dy="4.6">maj</tspan><tspan dy="-4.6"> (m)</tspan></text>
<text transform="translate(251,105.6) rotate(-90)" font-size="13.8" text-anchor="middle">Height Z (m)</text>
</svg>
</body></html>
